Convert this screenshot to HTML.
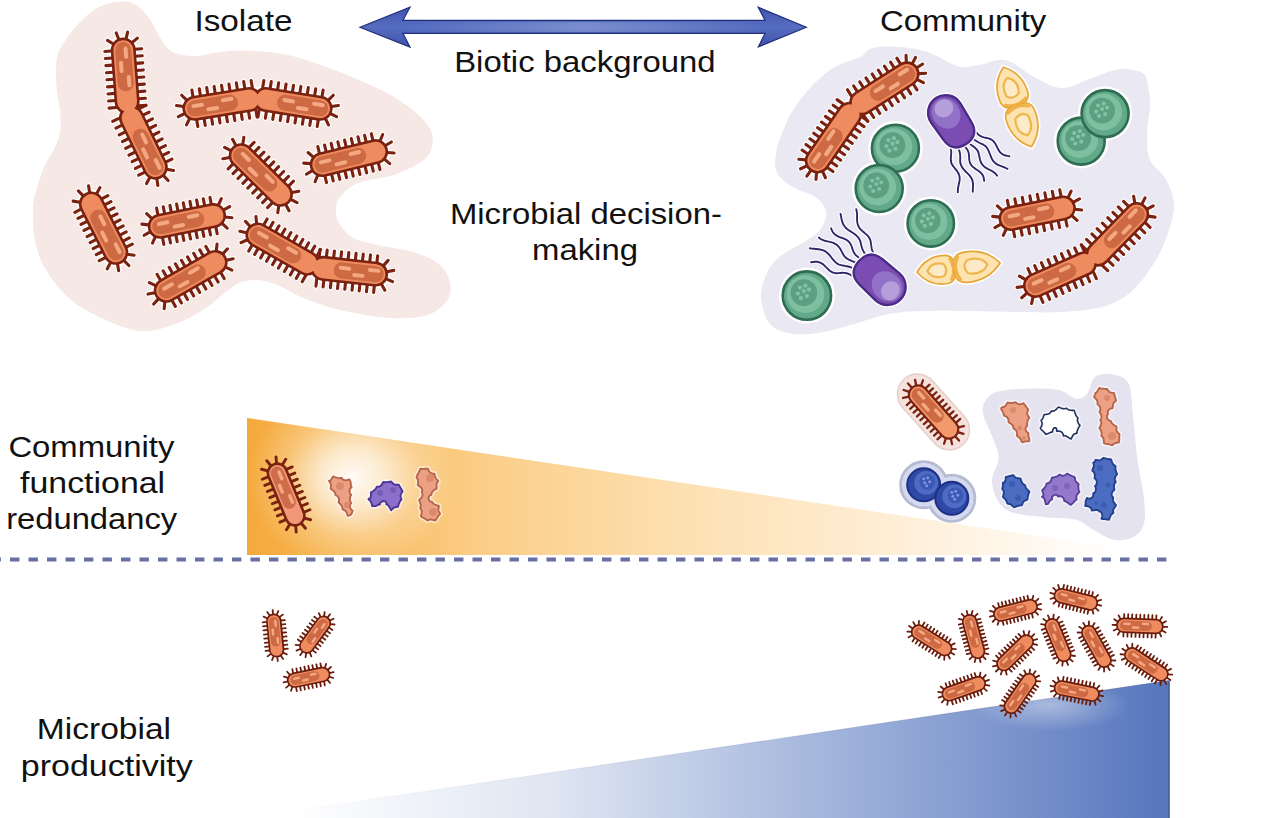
<!DOCTYPE html>
<html><head><meta charset="utf-8"><style>
html,body{margin:0;padding:0;background:#fff;width:1280px;height:818px;overflow:hidden}
svg{display:block}
text{font-family:"Liberation Sans",sans-serif;fill:#111}
</style></head><body>
<svg width="1280" height="818" viewBox="0 0 1280 818">
<defs>
<linearGradient id="og" x1="247" y1="0" x2="1166" y2="0" gradientUnits="userSpaceOnUse">
<stop offset="0" stop-color="#f5a93d"/><stop offset="0.07" stop-color="#f6b24a"/><stop offset="0.25" stop-color="#fbcd86"/><stop offset="0.5" stop-color="#fde2b6"/><stop offset="0.8" stop-color="#fff4e6"/><stop offset="0.95" stop-color="#ffffff"/></linearGradient>
<radialGradient id="glow" cx="352" cy="478" r="110" gradientTransform="translate(352,478) scale(0.95,0.85) translate(-352,-478)" gradientUnits="userSpaceOnUse">
<stop offset="0" stop-color="#fff" stop-opacity="0.95"/><stop offset="0.3" stop-color="#fff" stop-opacity="0.7"/><stop offset="0.65" stop-color="#fff" stop-opacity="0.25"/><stop offset="1" stop-color="#fff" stop-opacity="0"/></radialGradient>
<linearGradient id="bg" x1="290" y1="0" x2="1169" y2="0" gradientUnits="userSpaceOnUse">
<stop offset="0" stop-color="#ffffff"/><stop offset="0.3" stop-color="#dfe5f2"/><stop offset="0.7" stop-color="#92a7d6"/><stop offset="1" stop-color="#5676bd"/></linearGradient>
<radialGradient id="wglow"><stop offset="0" stop-color="#fff" stop-opacity="0.8"/><stop offset="1" stop-color="#fff" stop-opacity="0"/></radialGradient>
<linearGradient id="edgeg" x1="246" y1="0" x2="1169.5" y2="0" gradientUnits="userSpaceOnUse"><stop offset="0" stop-color="#7d8fb8" stop-opacity="0"/><stop offset="0.4" stop-color="#7d8fb8" stop-opacity="0.15"/><stop offset="1" stop-color="#4a5f9a" stop-opacity="0.6"/></linearGradient>
<linearGradient id="ahl" x1="410" y1="0" x2="760" y2="0" gradientUnits="userSpaceOnUse"><stop offset="0" stop-color="#fff" stop-opacity="0"/><stop offset="0.5" stop-color="#fff" stop-opacity="0.22"/><stop offset="1" stop-color="#fff" stop-opacity="0"/></linearGradient>
<linearGradient id="ag" x1="0" y1="7" x2="0" y2="47" gradientUnits="userSpaceOnUse">
<stop offset="0" stop-color="#3d52ad"/><stop offset="0.5" stop-color="#566ec0"/><stop offset="1" stop-color="#3d52ad"/></linearGradient>
</defs><path d="M60,49C64.2,40.7 74,28.2 81,21C88,13.8 95,8.9 102,5.6C109,2.3 117.2,1.4 123,1.4C128.8,1.4 132.3,2.3 137,5.6C141.7,8.9 147,15.4 151,21C155,26.6 157.4,33.8 161,39C164.6,44.2 167,49.2 172.5,52C178,54.8 186.9,55.8 194,56C201.1,56.2 207.3,53.9 215,53C222.7,52.1 228.7,50.4 240,50.6C251.3,50.8 268.8,51.4 283,54C297.2,56.6 311.2,61.7 325,66.5C338.8,71.3 353.7,77.4 366,83C378.3,88.6 389.3,93.8 399,100C408.7,106.2 418.4,114.3 424,120.5C429.6,126.7 432.3,130.8 432.6,137C432.9,143.2 432.3,151.8 426,158C419.7,164.2 406.3,170.3 395,174.5C383.7,178.7 367.2,179.2 358,183C348.8,186.8 343.7,192.5 340,197C336.3,201.5 336.2,205.7 336,210C335.8,214.3 336.2,218.4 339,223C341.8,227.6 346.1,233.8 352.5,237.5C358.9,241.2 367.1,242.5 377.5,245C387.9,247.5 404.6,249.2 415,252.5C425.4,255.8 434.2,260 440,265C445.8,270 448.8,276.7 450,282.5C451.2,288.3 451.2,294.6 447.5,300C443.8,305.4 437.1,312 427.5,315C417.9,318 404.6,318.8 390,318C375.4,317.2 354.6,313.4 340,310C325.4,306.6 312.9,301.7 302.5,297.5C292.1,293.3 285,287.9 277.5,285C270,282.1 263.8,280.4 257.5,280C251.2,279.6 245.4,280.4 240,282.5C234.6,284.6 230,288.8 225,292.5C220,296.2 215.8,300.8 210,305C204.2,309.2 197.5,313.8 190,317.5C182.5,321.2 173.3,325.2 165,327.5C156.7,329.8 149.5,332.1 140,331C130.5,329.9 119.5,326.2 108,321C96.5,315.8 81.3,308.5 71,300C60.7,291.5 52,279.8 46,270C40,260.2 37.2,251.3 35,241C32.8,230.7 32.7,216.8 33,208C33.3,199.2 35.1,195 37,188C38.9,181 41.7,172.5 44.5,166C47.3,159.5 51.4,154.5 54,149C56.6,143.5 58.9,138.7 60,133C61.1,127.3 60.9,122.2 60.4,115C59.9,107.8 57.7,97.3 57,90C56.3,82.7 55.5,77.8 56,71C56.5,64.2 55.8,57.3 60,49Z" fill="#f5e8e5"/><path d="M793,110C797.8,102.3 804.3,94 811,87C817.7,80 824.8,73 833,68C841.2,63 853.4,60.3 860,57C866.6,53.7 865.7,49.7 872.5,48C879.3,46.3 891.2,46.2 900.6,47C910,47.8 919.6,49.3 929,52.5C938.4,55.7 949.2,63.8 957,66C964.8,68.2 967.9,66.6 976,65.6C984.1,64.6 995.9,58.1 1005.6,60C1015.3,61.9 1024.6,72.3 1034,77C1043.4,81.7 1052.7,87.7 1062,88C1071.3,88.3 1080.7,81.8 1090,78.8C1099.3,75.7 1109.2,70.4 1118,69.4C1126.8,68.4 1137.5,70.2 1142.5,73C1147.5,75.8 1146.8,80.7 1148,86C1149.2,91.3 1150.2,97 1150,105C1149.8,113 1147,124.8 1147,134C1147,143.2 1147,152.7 1150,160C1153,167.3 1161,170.7 1165,178C1169,185.3 1173.5,194.8 1174,204C1174.5,213.2 1171.3,223.2 1168,233C1164.7,242.8 1160.2,253.2 1154,263C1147.8,272.8 1139.7,284.7 1131,292C1122.3,299.3 1113.8,303.7 1102,307C1090.2,310.3 1074,311.2 1060,312C1046,312.8 1032.8,312.2 1018,312C1003.2,311.8 986.7,311.2 971,311C955.3,310.8 937.7,310.5 924,311C910.3,311.5 900.7,311.8 889,314C877.3,316.2 865.8,320.8 854,324C842.2,327.2 829,331.5 818,333C807,334.5 796.2,334.7 788,333C779.8,331.3 773.5,329 769,323C764.5,317 761.5,305 761,297C760.5,289 763.7,281 766,275C768.3,269 771.2,265.1 775,261C778.8,256.9 783.4,253.9 788.6,250.6C793.8,247.3 800.9,244.3 806,241C811.1,237.7 816.2,234.3 819.5,230.5C822.8,226.7 824.7,221.8 825.6,218C826.5,214.2 826.7,211.5 825,208C823.3,204.5 819.8,200 815.5,197C811.2,194 804.1,192.5 799,190C793.9,187.5 788.8,185.3 785,182C781.2,178.7 777.5,174.8 776,170C774.5,165.2 775,159.2 776,153C777,146.8 779.2,140.2 782,133C784.8,125.8 788.2,117.7 793,110Z" fill="#eae9f3"/><g transform="translate(125.2,75.9) rotate(85.7)"><path d="M-25.9,-11.5L-25.9,-18.5M-25.9,11.5L-25.9,18.5M-18.8,-11.5L-18.8,-18.5M-18.8,11.5L-18.8,18.5M-11.7,-11.5L-11.7,-18.5M-11.7,11.5L-11.7,18.5M-4.6,-11.5L-4.6,-18.5M-4.6,11.5L-4.6,18.5M2.5,-11.5L2.5,-18.5M2.5,11.5L2.5,18.5M9.6,-11.5L9.6,-18.5M9.6,11.5L9.6,18.5M16.7,-11.5L16.7,-18.5M16.7,11.5L16.7,18.5M23.8,-11.5L23.8,-18.5M23.8,11.5L23.8,18.5M30.9,-11.5L30.9,-18.5M30.9,11.5L30.9,18.5M-32.7,-9.3L-36.8,-15M-36.8,-3.6L-43.5,-5.7M-36.8,3.6L-43.5,5.7M-32.7,9.3L-36.8,15" stroke="#fff" stroke-width="5.3" stroke-linecap="round"/><rect x="-40.4" y="-14.5" width="80.8" height="29" rx="14.5" fill="#fff"/></g><g transform="translate(143.4,142.5) rotate(64.2)"><path d="M-32.4,-11.5L-32.4,-18.5M-32.4,11.5L-32.4,18.5M-24.9,-11.5L-24.9,-18.5M-24.9,11.5L-24.9,18.5M-17.4,-11.5L-17.4,-18.5M-17.4,11.5L-17.4,18.5M-10,-11.5L-10,-18.5M-10,11.5L-10,18.5M-2.5,-11.5L-2.5,-18.5M-2.5,11.5L-2.5,18.5M5,-11.5L5,-18.5M5,11.5L5,18.5M12.4,-11.5L12.4,-18.5M12.4,11.5L12.4,18.5M19.9,-11.5L19.9,-18.5M19.9,11.5L19.9,18.5M27.4,-11.5L27.4,-18.5M27.4,11.5L27.4,18.5M34.1,-9.3L38.3,-15M38.3,-3.6L45,-5.7M38.3,3.6L45,5.7M34.1,9.3L38.3,15" stroke="#fff" stroke-width="5.3" stroke-linecap="round"/><rect x="-41.9" y="-14.5" width="83.8" height="29" rx="14.5" fill="#fff"/></g><path transform="translate(125.2,75.9) rotate(85.7)" d="M-25.9,-11.5L-25.9,-18.5M-25.9,11.5L-25.9,18.5M-18.8,-11.5L-18.8,-18.5M-18.8,11.5L-18.8,18.5M-11.7,-11.5L-11.7,-18.5M-11.7,11.5L-11.7,18.5M-4.6,-11.5L-4.6,-18.5M-4.6,11.5L-4.6,18.5M2.5,-11.5L2.5,-18.5M2.5,11.5L2.5,18.5M9.6,-11.5L9.6,-18.5M9.6,11.5L9.6,18.5M16.7,-11.5L16.7,-18.5M16.7,11.5L16.7,18.5M23.8,-11.5L23.8,-18.5M23.8,11.5L23.8,18.5M30.9,-11.5L30.9,-18.5M30.9,11.5L30.9,18.5M-32.7,-9.3L-36.8,-15M-36.8,-3.6L-43.5,-5.7M-36.8,3.6L-43.5,5.7M-32.7,9.3L-36.8,15" stroke="#7a2110" stroke-width="3.1" stroke-linecap="round"/><path transform="translate(143.4,142.5) rotate(64.2)" d="M-32.4,-11.5L-32.4,-18.5M-32.4,11.5L-32.4,18.5M-24.9,-11.5L-24.9,-18.5M-24.9,11.5L-24.9,18.5M-17.4,-11.5L-17.4,-18.5M-17.4,11.5L-17.4,18.5M-10,-11.5L-10,-18.5M-10,11.5L-10,18.5M-2.5,-11.5L-2.5,-18.5M-2.5,11.5L-2.5,18.5M5,-11.5L5,-18.5M5,11.5L5,18.5M12.4,-11.5L12.4,-18.5M12.4,11.5L12.4,18.5M19.9,-11.5L19.9,-18.5M19.9,11.5L19.9,18.5M27.4,-11.5L27.4,-18.5M27.4,11.5L27.4,18.5M34.1,-9.3L38.3,-15M38.3,-3.6L45,-5.7M38.3,3.6L45,5.7M34.1,9.3L38.3,15" stroke="#7a2110" stroke-width="3.1" stroke-linecap="round"/><rect transform="translate(125.2,75.9) rotate(85.7)" x="-38.4" y="-12.5" width="76.8" height="25" rx="12.5" fill="#7a2110"/><rect transform="translate(143.4,142.5) rotate(64.2)" x="-39.9" y="-12.5" width="79.8" height="25" rx="12.5" fill="#7a2110"/><g transform="translate(125.2,75.9) rotate(85.7)"><rect x="-35.8" y="-9.9" width="71.6" height="19.8" rx="9.9" fill="#ef8c5f"/><rect x="-33.9" y="-8" width="49.3" height="16.1" rx="8" fill="#cd6a44"/><rect x="-29.2" y="-4.4" width="12.3" height="4" rx="2" fill="#f4a882"/><rect x="-15.4" y="1.2" width="12.3" height="4" rx="2" fill="#f4a882"/><rect x="-0.6" y="-5.5" width="12.3" height="4" rx="2" fill="#f4a882"/></g><g transform="translate(143.4,142.5) rotate(64.2)"><rect x="-37.3" y="-9.9" width="74.6" height="19.8" rx="9.9" fill="#ef8c5f"/><rect x="-14.4" y="-8" width="49.8" height="16.1" rx="8" fill="#cd6a44"/><rect x="-9.8" y="-4.4" width="12.8" height="4" rx="2" fill="#f4a882"/><rect x="4.1" y="1.2" width="12.8" height="4" rx="2" fill="#f4a882"/><rect x="19.1" y="-5.5" width="12.8" height="4" rx="2" fill="#f4a882"/></g><g transform="translate(222,103.9) rotate(-9.2)"><path d="M-27.5,-11.5L-27.5,-18.5M-27.5,11.5L-27.5,18.5M-20,-11.5L-20,-18.5M-20,11.5L-20,18.5M-12.5,-11.5L-12.5,-18.5M-12.5,11.5L-12.5,18.5M-5,-11.5L-5,-18.5M-5,11.5L-5,18.5M2.5,-11.5L2.5,-18.5M2.5,11.5L2.5,18.5M10,-11.5L10,-18.5M10,11.5L10,18.5M17.5,-11.5L17.5,-18.5M17.5,11.5L17.5,18.5M25,-11.5L25,-18.5M25,11.5L25,18.5M32.5,-11.5L32.5,-18.5M32.5,11.5L32.5,18.5M-34.3,-9.3L-38.4,-15M-38.4,-3.6L-45.1,-5.7M-38.4,3.6L-45.1,5.7M-34.3,9.3L-38.4,15" stroke="#fff" stroke-width="5.3" stroke-linecap="round"/><rect x="-42" y="-14.5" width="84" height="29" rx="14.5" fill="#fff"/></g><g transform="translate(293,103.9) rotate(9.2)"><path d="M-32.5,-11.5L-32.5,-18.5M-32.5,11.5L-32.5,18.5M-25,-11.5L-25,-18.5M-25,11.5L-25,18.5M-17.5,-11.5L-17.5,-18.5M-17.5,11.5L-17.5,18.5M-10,-11.5L-10,-18.5M-10,11.5L-10,18.5M-2.5,-11.5L-2.5,-18.5M-2.5,11.5L-2.5,18.5M5,-11.5L5,-18.5M5,11.5L5,18.5M12.5,-11.5L12.5,-18.5M12.5,11.5L12.5,18.5M20,-11.5L20,-18.5M20,11.5L20,18.5M27.5,-11.5L27.5,-18.5M27.5,11.5L27.5,18.5M34.3,-9.3L38.4,-15M38.4,-3.6L45.1,-5.7M38.4,3.6L45.1,5.7M34.3,9.3L38.4,15" stroke="#fff" stroke-width="5.3" stroke-linecap="round"/><rect x="-42" y="-14.5" width="84" height="29" rx="14.5" fill="#fff"/></g><path transform="translate(222,103.9) rotate(-9.2)" d="M-27.5,-11.5L-27.5,-18.5M-27.5,11.5L-27.5,18.5M-20,-11.5L-20,-18.5M-20,11.5L-20,18.5M-12.5,-11.5L-12.5,-18.5M-12.5,11.5L-12.5,18.5M-5,-11.5L-5,-18.5M-5,11.5L-5,18.5M2.5,-11.5L2.5,-18.5M2.5,11.5L2.5,18.5M10,-11.5L10,-18.5M10,11.5L10,18.5M17.5,-11.5L17.5,-18.5M17.5,11.5L17.5,18.5M25,-11.5L25,-18.5M25,11.5L25,18.5M32.5,-11.5L32.5,-18.5M32.5,11.5L32.5,18.5M-34.3,-9.3L-38.4,-15M-38.4,-3.6L-45.1,-5.7M-38.4,3.6L-45.1,5.7M-34.3,9.3L-38.4,15" stroke="#7a2110" stroke-width="3.1" stroke-linecap="round"/><path transform="translate(293,103.9) rotate(9.2)" d="M-32.5,-11.5L-32.5,-18.5M-32.5,11.5L-32.5,18.5M-25,-11.5L-25,-18.5M-25,11.5L-25,18.5M-17.5,-11.5L-17.5,-18.5M-17.5,11.5L-17.5,18.5M-10,-11.5L-10,-18.5M-10,11.5L-10,18.5M-2.5,-11.5L-2.5,-18.5M-2.5,11.5L-2.5,18.5M5,-11.5L5,-18.5M5,11.5L5,18.5M12.5,-11.5L12.5,-18.5M12.5,11.5L12.5,18.5M20,-11.5L20,-18.5M20,11.5L20,18.5M27.5,-11.5L27.5,-18.5M27.5,11.5L27.5,18.5M34.3,-9.3L38.4,-15M38.4,-3.6L45.1,-5.7M38.4,3.6L45.1,5.7M34.3,9.3L38.4,15" stroke="#7a2110" stroke-width="3.1" stroke-linecap="round"/><rect transform="translate(222,103.9) rotate(-9.2)" x="-40" y="-12.5" width="80" height="25" rx="12.5" fill="#7a2110"/><rect transform="translate(293,103.9) rotate(9.2)" x="-40" y="-12.5" width="80" height="25" rx="12.5" fill="#7a2110"/><g transform="translate(222,103.9) rotate(-9.2)"><rect x="-37.4" y="-9.9" width="74.8" height="19.8" rx="9.9" fill="#ef8c5f"/><rect x="-35.5" y="-8" width="51.5" height="16.1" rx="8" fill="#cd6a44"/><rect x="-30.6" y="-4.4" width="12.8" height="4" rx="2" fill="#f4a882"/><rect x="-16.2" y="1.2" width="12.8" height="4" rx="2" fill="#f4a882"/><rect x="-0.7" y="-5.5" width="12.8" height="4" rx="2" fill="#f4a882"/></g><g transform="translate(293,103.9) rotate(9.2)"><rect x="-37.4" y="-9.9" width="74.8" height="19.8" rx="9.9" fill="#ef8c5f"/><rect x="-16" y="-8" width="51.5" height="16.1" rx="8" fill="#cd6a44"/><rect x="-11.1" y="-4.4" width="12.8" height="4" rx="2" fill="#f4a882"/><rect x="3.4" y="1.2" width="12.8" height="4" rx="2" fill="#f4a882"/><rect x="18.8" y="-5.5" width="12.8" height="4" rx="2" fill="#f4a882"/></g><g transform="translate(260.8,175) rotate(44.5)"><path d="M-27.6,-11.5L-27.6,-18.5M-27.6,11.5L-27.6,18.5M-20.7,-11.5L-20.7,-18.5M-20.7,11.5L-20.7,18.5M-13.8,-11.5L-13.8,-18.5M-13.8,11.5L-13.8,18.5M-6.9,-11.5L-6.9,-18.5M-6.9,11.5L-6.9,18.5M0,-11.5L0,-18.5M0,11.5L0,18.5M6.9,-11.5L6.9,-18.5M6.9,11.5L6.9,18.5M13.8,-11.5L13.8,-18.5M13.8,11.5L13.8,18.5M20.7,-11.5L20.7,-18.5M20.7,11.5L20.7,18.5M27.6,-11.5L27.6,-18.5M27.6,11.5L27.6,18.5M34.4,-9.3L38.5,-15M38.5,-3.6L45.2,-5.7M38.5,3.6L45.2,5.7M34.4,9.3L38.5,15M-34.4,-9.3L-38.5,-15M-38.5,-3.6L-45.2,-5.7M-38.5,3.6L-45.2,5.7M-34.4,9.3L-38.5,15" stroke="#fff" stroke-width="5.3" stroke-linecap="round"/><rect x="-42.1" y="-14.5" width="84.2" height="29" rx="14.5" fill="#fff"/></g><path transform="translate(260.8,175) rotate(44.5)" d="M-27.6,-11.5L-27.6,-18.5M-27.6,11.5L-27.6,18.5M-20.7,-11.5L-20.7,-18.5M-20.7,11.5L-20.7,18.5M-13.8,-11.5L-13.8,-18.5M-13.8,11.5L-13.8,18.5M-6.9,-11.5L-6.9,-18.5M-6.9,11.5L-6.9,18.5M0,-11.5L0,-18.5M0,11.5L0,18.5M6.9,-11.5L6.9,-18.5M6.9,11.5L6.9,18.5M13.8,-11.5L13.8,-18.5M13.8,11.5L13.8,18.5M20.7,-11.5L20.7,-18.5M20.7,11.5L20.7,18.5M27.6,-11.5L27.6,-18.5M27.6,11.5L27.6,18.5M34.4,-9.3L38.5,-15M38.5,-3.6L45.2,-5.7M38.5,3.6L45.2,5.7M34.4,9.3L38.5,15M-34.4,-9.3L-38.5,-15M-38.5,-3.6L-45.2,-5.7M-38.5,3.6L-45.2,5.7M-34.4,9.3L-38.5,15" stroke="#7a2110" stroke-width="3.1" stroke-linecap="round"/><rect transform="translate(260.8,175) rotate(44.5)" x="-40.1" y="-12.5" width="80.2" height="25" rx="12.5" fill="#7a2110"/><g transform="translate(260.8,175) rotate(44.5)"><rect x="-37.5" y="-9.9" width="75" height="19.8" rx="9.9" fill="#ef8c5f"/><rect x="-35.6" y="-8" width="55.7" height="16.1" rx="8" fill="#cd6a44"/><rect x="-29.8" y="-4.4" width="12.8" height="4" rx="2" fill="#f4a882"/><rect x="-14.2" y="1.2" width="12.8" height="4" rx="2" fill="#f4a882"/><rect x="2.5" y="-5.5" width="12.8" height="4" rx="2" fill="#f4a882"/></g><g transform="translate(348.9,158.1) rotate(-13.6)"><path d="M-27.5,-11.5L-27.5,-18.5M-27.5,11.5L-27.5,18.5M-20.6,-11.5L-20.6,-18.5M-20.6,11.5L-20.6,18.5M-13.8,-11.5L-13.8,-18.5M-13.8,11.5L-13.8,18.5M-6.9,-11.5L-6.9,-18.5M-6.9,11.5L-6.9,18.5M0,-11.5L0,-18.5M0,11.5L0,18.5M6.9,-11.5L6.9,-18.5M6.9,11.5L6.9,18.5M13.8,-11.5L13.8,-18.5M13.8,11.5L13.8,18.5M20.6,-11.5L20.6,-18.5M20.6,11.5L20.6,18.5M27.5,-11.5L27.5,-18.5M27.5,11.5L27.5,18.5M34.3,-9.3L38.4,-15M38.5,-3.6L45.1,-5.7M38.5,3.6L45.1,5.7M34.3,9.3L38.4,15M-34.3,-9.3L-38.4,-15M-38.5,-3.6L-45.1,-5.7M-38.5,3.6L-45.1,5.7M-34.3,9.3L-38.4,15" stroke="#fff" stroke-width="5.3" stroke-linecap="round"/><rect x="-42" y="-14.5" width="84" height="29" rx="14.5" fill="#fff"/></g><path transform="translate(348.9,158.1) rotate(-13.6)" d="M-27.5,-11.5L-27.5,-18.5M-27.5,11.5L-27.5,18.5M-20.6,-11.5L-20.6,-18.5M-20.6,11.5L-20.6,18.5M-13.8,-11.5L-13.8,-18.5M-13.8,11.5L-13.8,18.5M-6.9,-11.5L-6.9,-18.5M-6.9,11.5L-6.9,18.5M0,-11.5L0,-18.5M0,11.5L0,18.5M6.9,-11.5L6.9,-18.5M6.9,11.5L6.9,18.5M13.8,-11.5L13.8,-18.5M13.8,11.5L13.8,18.5M20.6,-11.5L20.6,-18.5M20.6,11.5L20.6,18.5M27.5,-11.5L27.5,-18.5M27.5,11.5L27.5,18.5M34.3,-9.3L38.4,-15M38.5,-3.6L45.1,-5.7M38.5,3.6L45.1,5.7M34.3,9.3L38.4,15M-34.3,-9.3L-38.4,-15M-38.5,-3.6L-45.1,-5.7M-38.5,3.6L-45.1,5.7M-34.3,9.3L-38.4,15" stroke="#7a2110" stroke-width="3.1" stroke-linecap="round"/><rect transform="translate(348.9,158.1) rotate(-13.6)" x="-40" y="-12.5" width="80" height="25" rx="12.5" fill="#7a2110"/><g transform="translate(348.9,158.1) rotate(-13.6)"><rect x="-37.4" y="-9.9" width="74.8" height="19.8" rx="9.9" fill="#ef8c5f"/><rect x="-35.5" y="-8" width="53.1" height="16.1" rx="8" fill="#cd6a44"/><rect x="-30.2" y="-4.4" width="12.8" height="4" rx="2" fill="#f4a882"/><rect x="-15.4" y="1.2" width="12.8" height="4" rx="2" fill="#f4a882"/><rect x="0.6" y="-5.5" width="12.8" height="4" rx="2" fill="#f4a882"/></g><g transform="translate(103.6,228.2) rotate(63.2)"><path d="M-27.1,-11.5L-27.1,-18.5M-27.1,11.5L-27.1,18.5M-20.3,-11.5L-20.3,-18.5M-20.3,11.5L-20.3,18.5M-13.5,-11.5L-13.5,-18.5M-13.5,11.5L-13.5,18.5M-6.8,-11.5L-6.8,-18.5M-6.8,11.5L-6.8,18.5M0,-11.5L0,-18.5M0,11.5L0,18.5M6.8,-11.5L6.8,-18.5M6.8,11.5L6.8,18.5M13.5,-11.5L13.5,-18.5M13.5,11.5L13.5,18.5M20.3,-11.5L20.3,-18.5M20.3,11.5L20.3,18.5M27.1,-11.5L27.1,-18.5M27.1,11.5L27.1,18.5M33.8,-9.3L37.9,-15M38,-3.6L44.7,-5.7M38,3.6L44.7,5.7M33.8,9.3L37.9,15M-33.8,-9.3L-37.9,-15M-38,-3.6L-44.7,-5.7M-38,3.6L-44.7,5.7M-33.8,9.3L-37.9,15" stroke="#fff" stroke-width="5.3" stroke-linecap="round"/><rect x="-41.6" y="-14.5" width="83.1" height="29" rx="14.5" fill="#fff"/></g><path transform="translate(103.6,228.2) rotate(63.2)" d="M-27.1,-11.5L-27.1,-18.5M-27.1,11.5L-27.1,18.5M-20.3,-11.5L-20.3,-18.5M-20.3,11.5L-20.3,18.5M-13.5,-11.5L-13.5,-18.5M-13.5,11.5L-13.5,18.5M-6.8,-11.5L-6.8,-18.5M-6.8,11.5L-6.8,18.5M0,-11.5L0,-18.5M0,11.5L0,18.5M6.8,-11.5L6.8,-18.5M6.8,11.5L6.8,18.5M13.5,-11.5L13.5,-18.5M13.5,11.5L13.5,18.5M20.3,-11.5L20.3,-18.5M20.3,11.5L20.3,18.5M27.1,-11.5L27.1,-18.5M27.1,11.5L27.1,18.5M33.8,-9.3L37.9,-15M38,-3.6L44.7,-5.7M38,3.6L44.7,5.7M33.8,9.3L37.9,15M-33.8,-9.3L-37.9,-15M-38,-3.6L-44.7,-5.7M-38,3.6L-44.7,5.7M-33.8,9.3L-37.9,15" stroke="#7a2110" stroke-width="3.1" stroke-linecap="round"/><rect transform="translate(103.6,228.2) rotate(63.2)" x="-39.6" y="-12.5" width="79.1" height="25" rx="12.5" fill="#7a2110"/><g transform="translate(103.6,228.2) rotate(63.2)"><rect x="-37" y="-9.9" width="73.9" height="19.8" rx="9.9" fill="#ef8c5f"/><rect x="-19.8" y="-8" width="54.9" height="16.1" rx="8" fill="#cd6a44"/><rect x="-14" y="-4.4" width="12.7" height="4" rx="2" fill="#f4a882"/><rect x="1.3" y="1.2" width="12.7" height="4" rx="2" fill="#f4a882"/><rect x="17.8" y="-5.5" width="12.7" height="4" rx="2" fill="#f4a882"/></g><g transform="translate(186.9,220.9) rotate(-11.3)"><path d="M-27.2,-11.5L-27.2,-18.5M-27.2,11.5L-27.2,18.5M-20.4,-11.5L-20.4,-18.5M-20.4,11.5L-20.4,18.5M-13.6,-11.5L-13.6,-18.5M-13.6,11.5L-13.6,18.5M-6.8,-11.5L-6.8,-18.5M-6.8,11.5L-6.8,18.5M0,-11.5L0,-18.5M0,11.5L0,18.5M6.8,-11.5L6.8,-18.5M6.8,11.5L6.8,18.5M13.6,-11.5L13.6,-18.5M13.6,11.5L13.6,18.5M20.4,-11.5L20.4,-18.5M20.4,11.5L20.4,18.5M27.2,-11.5L27.2,-18.5M27.2,11.5L27.2,18.5M34,-9.3L38.1,-15M38.2,-3.6L44.8,-5.7M38.2,3.6L44.8,5.7M34,9.3L38.1,15M-34,-9.3L-38.1,-15M-38.2,-3.6L-44.8,-5.7M-38.2,3.6L-44.8,5.7M-34,9.3L-38.1,15" stroke="#fff" stroke-width="5.3" stroke-linecap="round"/><rect x="-41.7" y="-14.5" width="83.4" height="29" rx="14.5" fill="#fff"/></g><path transform="translate(186.9,220.9) rotate(-11.3)" d="M-27.2,-11.5L-27.2,-18.5M-27.2,11.5L-27.2,18.5M-20.4,-11.5L-20.4,-18.5M-20.4,11.5L-20.4,18.5M-13.6,-11.5L-13.6,-18.5M-13.6,11.5L-13.6,18.5M-6.8,-11.5L-6.8,-18.5M-6.8,11.5L-6.8,18.5M0,-11.5L0,-18.5M0,11.5L0,18.5M6.8,-11.5L6.8,-18.5M6.8,11.5L6.8,18.5M13.6,-11.5L13.6,-18.5M13.6,11.5L13.6,18.5M20.4,-11.5L20.4,-18.5M20.4,11.5L20.4,18.5M27.2,-11.5L27.2,-18.5M27.2,11.5L27.2,18.5M34,-9.3L38.1,-15M38.2,-3.6L44.8,-5.7M38.2,3.6L44.8,5.7M34,9.3L38.1,15M-34,-9.3L-38.1,-15M-38.2,-3.6L-44.8,-5.7M-38.2,3.6L-44.8,5.7M-34,9.3L-38.1,15" stroke="#7a2110" stroke-width="3.1" stroke-linecap="round"/><rect transform="translate(186.9,220.9) rotate(-11.3)" x="-39.7" y="-12.5" width="79.4" height="25" rx="12.5" fill="#7a2110"/><g transform="translate(186.9,220.9) rotate(-11.3)"><rect x="-37.1" y="-9.9" width="74.2" height="19.8" rx="9.9" fill="#ef8c5f"/><rect x="-35.2" y="-8" width="52.7" height="16.1" rx="8" fill="#cd6a44"/><rect x="-30" y="-4.4" width="12.7" height="4" rx="2" fill="#f4a882"/><rect x="-15.2" y="1.2" width="12.7" height="4" rx="2" fill="#f4a882"/><rect x="0.6" y="-5.5" width="12.7" height="4" rx="2" fill="#f4a882"/></g><g transform="translate(190.6,276.4) rotate(-29.7)"><path d="M-28.1,-11.5L-28.1,-18.5M-28.1,11.5L-28.1,18.5M-21.1,-11.5L-21.1,-18.5M-21.1,11.5L-21.1,18.5M-14.1,-11.5L-14.1,-18.5M-14.1,11.5L-14.1,18.5M-7,-11.5L-7,-18.5M-7,11.5L-7,18.5M0,-11.5L0,-18.5M0,11.5L0,18.5M7,-11.5L7,-18.5M7,11.5L7,18.5M14.1,-11.5L14.1,-18.5M14.1,11.5L14.1,18.5M21.1,-11.5L21.1,-18.5M21.1,11.5L21.1,18.5M28.1,-11.5L28.1,-18.5M28.1,11.5L28.1,18.5M34.9,-9.3L39,-15M39.1,-3.6L45.7,-5.7M39.1,3.6L45.7,5.7M34.9,9.3L39,15M-34.9,-9.3L-39,-15M-39.1,-3.6L-45.7,-5.7M-39.1,3.6L-45.7,5.7M-34.9,9.3L-39,15" stroke="#fff" stroke-width="5.3" stroke-linecap="round"/><rect x="-42.6" y="-14.5" width="85.3" height="29" rx="14.5" fill="#fff"/></g><path transform="translate(190.6,276.4) rotate(-29.7)" d="M-28.1,-11.5L-28.1,-18.5M-28.1,11.5L-28.1,18.5M-21.1,-11.5L-21.1,-18.5M-21.1,11.5L-21.1,18.5M-14.1,-11.5L-14.1,-18.5M-14.1,11.5L-14.1,18.5M-7,-11.5L-7,-18.5M-7,11.5L-7,18.5M0,-11.5L0,-18.5M0,11.5L0,18.5M7,-11.5L7,-18.5M7,11.5L7,18.5M14.1,-11.5L14.1,-18.5M14.1,11.5L14.1,18.5M21.1,-11.5L21.1,-18.5M21.1,11.5L21.1,18.5M28.1,-11.5L28.1,-18.5M28.1,11.5L28.1,18.5M34.9,-9.3L39,-15M39.1,-3.6L45.7,-5.7M39.1,3.6L45.7,5.7M34.9,9.3L39,15M-34.9,-9.3L-39,-15M-39.1,-3.6L-45.7,-5.7M-39.1,3.6L-45.7,5.7M-34.9,9.3L-39,15" stroke="#7a2110" stroke-width="3.1" stroke-linecap="round"/><rect transform="translate(190.6,276.4) rotate(-29.7)" x="-40.6" y="-12.5" width="81.3" height="25" rx="12.5" fill="#7a2110"/><g transform="translate(190.6,276.4) rotate(-29.7)"><rect x="-38" y="-9.9" width="76.1" height="19.8" rx="9.9" fill="#ef8c5f"/><rect x="-36.2" y="-8" width="52.4" height="16.1" rx="8" fill="#cd6a44"/><rect x="-31.1" y="-4.4" width="13" height="4" rx="2" fill="#f4a882"/><rect x="-16.5" y="1.2" width="13" height="4" rx="2" fill="#f4a882"/><rect x="-0.7" y="-5.5" width="13" height="4" rx="2" fill="#f4a882"/></g><g transform="translate(282.5,249.1) rotate(29.8)"><path d="M-28.3,-11.5L-28.3,-18.5M-28.3,11.5L-28.3,18.5M-21.5,-11.5L-21.5,-18.5M-21.5,11.5L-21.5,18.5M-14.6,-11.5L-14.6,-18.5M-14.6,11.5L-14.6,18.5M-7.8,-11.5L-7.8,-18.5M-7.8,11.5L-7.8,18.5M-0.9,-11.5L-0.9,-18.5M-0.9,11.5L-0.9,18.5M5.9,-11.5L5.9,-18.5M5.9,11.5L5.9,18.5M12.8,-11.5L12.8,-18.5M12.8,11.5L12.8,18.5M19.6,-11.5L19.6,-18.5M19.6,11.5L19.6,18.5M26.5,-11.5L26.5,-18.5M26.5,11.5L26.5,18.5M33.3,-11.5L33.3,-18.5M33.3,11.5L33.3,18.5M-35.1,-9.3L-39.2,-15M-39.3,-3.6L-45.9,-5.7M-39.3,3.6L-45.9,5.7M-35.1,9.3L-39.2,15" stroke="#fff" stroke-width="5.3" stroke-linecap="round"/><rect x="-42.8" y="-14.5" width="85.7" height="29" rx="14.5" fill="#fff"/></g><g transform="translate(349.3,271.2) rotate(6.3)"><path d="M-31.5,-11.5L-31.5,-18.5M-31.5,11.5L-31.5,18.5M-24.3,-11.5L-24.3,-18.5M-24.3,11.5L-24.3,18.5M-17,-11.5L-17,-18.5M-17,11.5L-17,18.5M-9.8,-11.5L-9.8,-18.5M-9.8,11.5L-9.8,18.5M-2.5,-11.5L-2.5,-18.5M-2.5,11.5L-2.5,18.5M4.8,-11.5L4.8,-18.5M4.8,11.5L4.8,18.5M12,-11.5L12,-18.5M12,11.5L12,18.5M19.3,-11.5L19.3,-18.5M19.3,11.5L19.3,18.5M26.5,-11.5L26.5,-18.5M26.5,11.5L26.5,18.5M33.3,-9.3L37.4,-15M37.5,-3.6L44.1,-5.7M37.5,3.6L44.1,5.7M33.3,9.3L37.4,15" stroke="#fff" stroke-width="5.3" stroke-linecap="round"/><rect x="-41" y="-14.5" width="82" height="29" rx="14.5" fill="#fff"/></g><path transform="translate(282.5,249.1) rotate(29.8)" d="M-28.3,-11.5L-28.3,-18.5M-28.3,11.5L-28.3,18.5M-21.5,-11.5L-21.5,-18.5M-21.5,11.5L-21.5,18.5M-14.6,-11.5L-14.6,-18.5M-14.6,11.5L-14.6,18.5M-7.8,-11.5L-7.8,-18.5M-7.8,11.5L-7.8,18.5M-0.9,-11.5L-0.9,-18.5M-0.9,11.5L-0.9,18.5M5.9,-11.5L5.9,-18.5M5.9,11.5L5.9,18.5M12.8,-11.5L12.8,-18.5M12.8,11.5L12.8,18.5M19.6,-11.5L19.6,-18.5M19.6,11.5L19.6,18.5M26.5,-11.5L26.5,-18.5M26.5,11.5L26.5,18.5M33.3,-11.5L33.3,-18.5M33.3,11.5L33.3,18.5M-35.1,-9.3L-39.2,-15M-39.3,-3.6L-45.9,-5.7M-39.3,3.6L-45.9,5.7M-35.1,9.3L-39.2,15" stroke="#7a2110" stroke-width="3.1" stroke-linecap="round"/><path transform="translate(349.3,271.2) rotate(6.3)" d="M-31.5,-11.5L-31.5,-18.5M-31.5,11.5L-31.5,18.5M-24.3,-11.5L-24.3,-18.5M-24.3,11.5L-24.3,18.5M-17,-11.5L-17,-18.5M-17,11.5L-17,18.5M-9.8,-11.5L-9.8,-18.5M-9.8,11.5L-9.8,18.5M-2.5,-11.5L-2.5,-18.5M-2.5,11.5L-2.5,18.5M4.8,-11.5L4.8,-18.5M4.8,11.5L4.8,18.5M12,-11.5L12,-18.5M12,11.5L12,18.5M19.3,-11.5L19.3,-18.5M19.3,11.5L19.3,18.5M26.5,-11.5L26.5,-18.5M26.5,11.5L26.5,18.5M33.3,-9.3L37.4,-15M37.5,-3.6L44.1,-5.7M37.5,3.6L44.1,5.7M33.3,9.3L37.4,15" stroke="#7a2110" stroke-width="3.1" stroke-linecap="round"/><rect transform="translate(282.5,249.1) rotate(29.8)" x="-40.8" y="-12.5" width="81.7" height="25" rx="12.5" fill="#7a2110"/><rect transform="translate(349.3,271.2) rotate(6.3)" x="-39" y="-12.5" width="78" height="25" rx="12.5" fill="#7a2110"/><g transform="translate(282.5,249.1) rotate(29.8)"><rect x="-38.2" y="-9.9" width="76.5" height="19.8" rx="9.9" fill="#ef8c5f"/><rect x="-36.4" y="-8" width="56.8" height="16.1" rx="8" fill="#cd6a44"/><rect x="-30.4" y="-4.4" width="13.1" height="4" rx="2" fill="#f4a882"/><rect x="-14.5" y="1.2" width="13.1" height="4" rx="2" fill="#f4a882"/><rect x="2.5" y="-5.5" width="13.1" height="4" rx="2" fill="#f4a882"/></g><g transform="translate(349.3,271.2) rotate(6.3)"><rect x="-36.4" y="-9.9" width="72.8" height="19.8" rx="9.9" fill="#ef8c5f"/><rect x="-15.6" y="-8" width="50.2" height="16.1" rx="8" fill="#cd6a44"/><rect x="-10.8" y="-4.4" width="12.5" height="4" rx="2" fill="#f4a882"/><rect x="3.2" y="1.2" width="12.5" height="4" rx="2" fill="#f4a882"/><rect x="18.3" y="-5.5" width="12.5" height="4" rx="2" fill="#f4a882"/></g><g transform="translate(833.5,137.7) rotate(-55.3)"><path d="M-28.1,-11.8L-28.1,-18.8M-28.1,11.8L-28.1,18.8M-21.3,-11.8L-21.3,-18.8M-21.3,11.8L-21.3,18.8M-14.4,-11.8L-14.4,-18.8M-14.4,11.8L-14.4,18.8M-7.6,-11.8L-7.6,-18.8M-7.6,11.8L-7.6,18.8M-0.8,-11.8L-0.8,-18.8M-0.8,11.8L-0.8,18.8M6,-11.8L6,-18.8M6,11.8L6,18.8M12.9,-11.8L12.9,-18.8M12.9,11.8L12.9,18.8M19.7,-11.8L19.7,-18.8M19.7,11.8L19.7,18.8M26.5,-11.8L26.5,-18.8M26.5,11.8L26.5,18.8M33.3,-11.8L33.3,-18.8M33.3,11.8L33.3,18.8M-34,-10.2L-37.5,-16.2M-38.3,-5.9L-44.3,-9.4M-39.8,0L-46.8,0M-38.3,5.9L-44.3,9.4M-34,10.2L-37.5,16.2" stroke="#fff" stroke-width="5.3" stroke-linecap="round"/><rect x="-42.8" y="-14.8" width="85.7" height="29.5" rx="14.8" fill="#fff"/></g><g transform="translate(884.4,88.4) rotate(-32.5)"><path d="M-31.9,-11.8L-31.9,-18.8M-31.9,11.8L-31.9,18.8M-24.6,-11.8L-24.6,-18.8M-24.6,11.8L-24.6,18.8M-17.3,-11.8L-17.3,-18.8M-17.3,11.8L-17.3,18.8M-9.9,-11.8L-9.9,-18.8M-9.9,11.8L-9.9,18.8M-2.6,-11.8L-2.6,-18.8M-2.6,11.8L-2.6,18.8M4.7,-11.8L4.7,-18.8M4.7,11.8L4.7,18.8M12,-11.8L12,-18.8M12,11.8L12,18.8M19.3,-11.8L19.3,-18.8M19.3,11.8L19.3,18.8M26.7,-11.8L26.7,-18.8M26.7,11.8L26.7,18.8M32.5,-10.2L36,-16.2M36.8,-5.9L42.9,-9.4M38.4,0L45.4,0M36.8,5.9L42.9,9.4M32.5,10.2L36,16.2" stroke="#fff" stroke-width="5.3" stroke-linecap="round"/><rect x="-41.4" y="-14.8" width="82.8" height="29.5" rx="14.8" fill="#fff"/></g><path transform="translate(833.5,137.7) rotate(-55.3)" d="M-28.1,-11.8L-28.1,-18.8M-28.1,11.8L-28.1,18.8M-21.3,-11.8L-21.3,-18.8M-21.3,11.8L-21.3,18.8M-14.4,-11.8L-14.4,-18.8M-14.4,11.8L-14.4,18.8M-7.6,-11.8L-7.6,-18.8M-7.6,11.8L-7.6,18.8M-0.8,-11.8L-0.8,-18.8M-0.8,11.8L-0.8,18.8M6,-11.8L6,-18.8M6,11.8L6,18.8M12.9,-11.8L12.9,-18.8M12.9,11.8L12.9,18.8M19.7,-11.8L19.7,-18.8M19.7,11.8L19.7,18.8M26.5,-11.8L26.5,-18.8M26.5,11.8L26.5,18.8M33.3,-11.8L33.3,-18.8M33.3,11.8L33.3,18.8M-34,-10.2L-37.5,-16.2M-38.3,-5.9L-44.3,-9.4M-39.8,0L-46.8,0M-38.3,5.9L-44.3,9.4M-34,10.2L-37.5,16.2" stroke="#7a2110" stroke-width="3.1" stroke-linecap="round"/><path transform="translate(884.4,88.4) rotate(-32.5)" d="M-31.9,-11.8L-31.9,-18.8M-31.9,11.8L-31.9,18.8M-24.6,-11.8L-24.6,-18.8M-24.6,11.8L-24.6,18.8M-17.3,-11.8L-17.3,-18.8M-17.3,11.8L-17.3,18.8M-9.9,-11.8L-9.9,-18.8M-9.9,11.8L-9.9,18.8M-2.6,-11.8L-2.6,-18.8M-2.6,11.8L-2.6,18.8M4.7,-11.8L4.7,-18.8M4.7,11.8L4.7,18.8M12,-11.8L12,-18.8M12,11.8L12,18.8M19.3,-11.8L19.3,-18.8M19.3,11.8L19.3,18.8M26.7,-11.8L26.7,-18.8M26.7,11.8L26.7,18.8M32.5,-10.2L36,-16.2M36.8,-5.9L42.9,-9.4M38.4,0L45.4,0M36.8,5.9L42.9,9.4M32.5,10.2L36,16.2" stroke="#7a2110" stroke-width="3.1" stroke-linecap="round"/><rect transform="translate(833.5,137.7) rotate(-55.3)" x="-40.8" y="-12.8" width="81.7" height="25.5" rx="12.8" fill="#7a2110"/><rect transform="translate(884.4,88.4) rotate(-32.5)" x="-39.4" y="-12.8" width="78.8" height="25.5" rx="12.8" fill="#7a2110"/><g transform="translate(833.5,137.7) rotate(-55.3)"><rect x="-38.2" y="-10.2" width="76.5" height="20.3" rx="10.2" fill="#ef8c5f"/><rect x="-36.3" y="-8.2" width="46.1" height="16.5" rx="8.2" fill="#cd6a44"/><rect x="-32.7" y="-4.5" width="13.1" height="4.1" rx="2" fill="#f4a882"/><rect x="-19.8" y="1.3" width="13.1" height="4.1" rx="2" fill="#f4a882"/><rect x="-6" y="-5.7" width="13.1" height="4.1" rx="2" fill="#f4a882"/></g><g transform="translate(884.4,88.4) rotate(-32.5)"><rect x="-36.8" y="-10.2" width="73.6" height="20.3" rx="10.2" fill="#ef8c5f"/><rect x="-15.8" y="-8.2" width="50.7" height="16.5" rx="8.2" fill="#cd6a44"/><rect x="-10.9" y="-4.5" width="12.6" height="4.1" rx="2" fill="#f4a882"/><rect x="3.3" y="1.3" width="12.6" height="4.1" rx="2" fill="#f4a882"/><rect x="18.5" y="-5.7" width="12.6" height="4.1" rx="2" fill="#f4a882"/></g><circle cx="895.4" cy="148.2" r="27.3" fill="#fff"/><circle cx="879.2" cy="188.5" r="27.3" fill="#fff"/><g transform="translate(895.4,148.2)"><circle r="23.5" fill="#62a98a" stroke="#2e6d52" stroke-width="2.6"/><circle cx="-1.5" cy="-1.5" r="18.4" fill="#7dbf9f"/><circle cx="-3" cy="-3" r="12.9" fill="#5c9f81"/><circle cx="-7" cy="-8" r="2.1" fill="#82c3a3"/><circle cx="-1.5" cy="-10" r="2.1" fill="#82c3a3"/><circle cx="-9" cy="-2" r="2.1" fill="#82c3a3"/><circle cx="-3" cy="-4.5" r="2.1" fill="#82c3a3"/><circle cx="2" cy="-6" r="2.1" fill="#82c3a3"/><circle cx="-6" cy="2.5" r="2.1" fill="#82c3a3"/><circle cx="0" cy="0.5" r="2.1" fill="#82c3a3"/></g><g transform="translate(879.2,188.5)"><circle r="23.5" fill="#62a98a" stroke="#2e6d52" stroke-width="2.6"/><circle cx="-1.5" cy="-1.5" r="18.4" fill="#7dbf9f"/><circle cx="-3" cy="-3" r="12.9" fill="#5c9f81"/><circle cx="-7" cy="-8" r="2.1" fill="#82c3a3"/><circle cx="-1.5" cy="-10" r="2.1" fill="#82c3a3"/><circle cx="-9" cy="-2" r="2.1" fill="#82c3a3"/><circle cx="-3" cy="-4.5" r="2.1" fill="#82c3a3"/><circle cx="2" cy="-6" r="2.1" fill="#82c3a3"/><circle cx="-6" cy="2.5" r="2.1" fill="#82c3a3"/><circle cx="0" cy="0.5" r="2.1" fill="#82c3a3"/></g><circle cx="930.8" cy="223.4" r="27" fill="#fff"/><g transform="translate(930.8,223.4)"><circle r="23.2" fill="#62a98a" stroke="#2e6d52" stroke-width="2.6"/><circle cx="-1.5" cy="-1.5" r="18.1" fill="#7dbf9f"/><circle cx="-3" cy="-3" r="12.7" fill="#5c9f81"/><circle cx="-7" cy="-8" r="2.1" fill="#82c3a3"/><circle cx="-1.5" cy="-10" r="2.1" fill="#82c3a3"/><circle cx="-9" cy="-2" r="2.1" fill="#82c3a3"/><circle cx="-3" cy="-4.5" r="2.1" fill="#82c3a3"/><circle cx="2" cy="-6" r="2.1" fill="#82c3a3"/><circle cx="-6" cy="2.5" r="2.1" fill="#82c3a3"/><circle cx="0" cy="0.5" r="2.1" fill="#82c3a3"/></g><circle cx="806.9" cy="295.6" r="28" fill="#fff"/><g transform="translate(806.9,295.6)"><circle r="24.2" fill="#62a98a" stroke="#2e6d52" stroke-width="2.6"/><circle cx="-1.5" cy="-1.5" r="18.9" fill="#7dbf9f"/><circle cx="-3" cy="-3" r="13.3" fill="#5c9f81"/><circle cx="-7" cy="-8" r="2.1" fill="#82c3a3"/><circle cx="-1.5" cy="-10" r="2.1" fill="#82c3a3"/><circle cx="-9" cy="-2" r="2.1" fill="#82c3a3"/><circle cx="-3" cy="-4.5" r="2.1" fill="#82c3a3"/><circle cx="2" cy="-6" r="2.1" fill="#82c3a3"/><circle cx="-6" cy="2.5" r="2.1" fill="#82c3a3"/><circle cx="0" cy="0.5" r="2.1" fill="#82c3a3"/></g><circle cx="1081.2" cy="141.1" r="27.3" fill="#fff"/><circle cx="1105.1" cy="113.6" r="27.3" fill="#fff"/><g transform="translate(1081.2,141.1)"><circle r="23.5" fill="#62a98a" stroke="#2e6d52" stroke-width="2.6"/><circle cx="-1.5" cy="-1.5" r="18.4" fill="#7dbf9f"/><circle cx="-3" cy="-3" r="12.9" fill="#5c9f81"/><circle cx="-7" cy="-8" r="2.1" fill="#82c3a3"/><circle cx="-1.5" cy="-10" r="2.1" fill="#82c3a3"/><circle cx="-9" cy="-2" r="2.1" fill="#82c3a3"/><circle cx="-3" cy="-4.5" r="2.1" fill="#82c3a3"/><circle cx="2" cy="-6" r="2.1" fill="#82c3a3"/><circle cx="-6" cy="2.5" r="2.1" fill="#82c3a3"/><circle cx="0" cy="0.5" r="2.1" fill="#82c3a3"/></g><g transform="translate(1105.1,113.6)"><circle r="23.5" fill="#62a98a" stroke="#2e6d52" stroke-width="2.6"/><circle cx="-1.5" cy="-1.5" r="18.4" fill="#7dbf9f"/><circle cx="-3" cy="-3" r="12.9" fill="#5c9f81"/><circle cx="-7" cy="-8" r="2.1" fill="#82c3a3"/><circle cx="-1.5" cy="-10" r="2.1" fill="#82c3a3"/><circle cx="-9" cy="-2" r="2.1" fill="#82c3a3"/><circle cx="-3" cy="-4.5" r="2.1" fill="#82c3a3"/><circle cx="2" cy="-6" r="2.1" fill="#82c3a3"/><circle cx="-6" cy="2.5" r="2.1" fill="#82c3a3"/><circle cx="0" cy="0.5" r="2.1" fill="#82c3a3"/></g><g transform="translate(936,98) rotate(56.9)"><path d="M44.9,-13.7 L46.5,-14.2 L48.2,-14.5 L49.8,-14.8 L51.5,-15.1 L53.2,-15.4 L54.8,-15.9 L56.3,-16.6 L57.8,-17.5 L59.1,-18.6 L60.4,-19.9 L61.7,-21.2 L63.1,-22.4 L64.5,-23.4 L66,-24.1 L67.6,-24.6 L69.3,-24.7 L71.1,-24.7 L73,-24.5 L74.8,-24.3 L76.7,-24.1 L78.5,-24 L80.3,-24.1 L81.9,-24.4 L83.5,-25 L84.9,-25.9 L86.3,-27 L87.6,-28.3 L88.9,-29.7M46.9,-8.2 L48.8,-8.4 L50.7,-8.5 L52.6,-8.7 L54.5,-9.1 L56.3,-9.6 L58.1,-10.3 L59.8,-11.1 L61.6,-12.1 L63.3,-13.2 L65,-14.2 L66.8,-15 L68.6,-15.4 L70.5,-15.5 L72.5,-15.3 L74.5,-14.9 L76.6,-14.5 L78.6,-14.1 L80.6,-13.7 L82.6,-13.5 L84.5,-13.6 L86.4,-14 L88.2,-14.6 L89.9,-15.5 L91.6,-16.6 L93.3,-17.8 L95,-19 L96.7,-20.2 L98.4,-21.2M48.9,-2.7 L50.7,-2.7 L52.5,-2.7 L54.3,-2.9 L56,-3.2 L57.8,-3.7 L59.5,-4.3 L61.3,-5 L63,-5.5 L64.8,-5.9 L66.6,-6.1 L68.4,-5.9 L70.2,-5.3 L72,-4.6 L73.9,-3.9 L75.7,-3.2 L77.5,-2.7 L79.3,-2.4 L81.1,-2.4 L82.9,-2.7 L84.6,-3.2 L86.4,-4 L88.1,-4.9 L89.8,-5.9 L91.5,-6.9 L93.3,-7.7 L95,-8.3 L96.8,-8.7 L98.5,-8.7M48.9,2.7 L50.6,2.9 L52.3,2.9 L53.9,2.7 L55.6,2.5 L57.3,2.2 L59,2 L60.7,2 L62.4,2.2 L64,2.7 L65.6,3.4 L67.2,4.3 L68.8,5.3 L70.5,6.1 L72.1,6.7 L73.7,7.1 L75.4,7.1 L77.1,6.9 L78.8,6.4 L80.5,5.8 L82.3,5 L84,4.3 L85.7,3.7 L87.4,3.2 L89.1,3 L90.8,3.1 L92.4,3.4 L94.1,4.1 L95.7,4.9M46.9,8.2 L48.8,8.4 L50.7,8.6 L52.6,8.7 L54.5,8.9 L56.4,9.2 L58.2,9.7 L60,10.4 L61.7,11.4 L63.4,12.4 L65.1,13.6 L66.8,14.7 L68.6,15.4 L70.5,15.8 L72.4,16 L74.3,15.9 L76.3,15.6 L78.4,15.2 L80.4,14.7 L82.4,14.3 L84.4,14.1 L86.3,14.1 L88.2,14.3 L90,14.9 L91.8,15.7 L93.5,16.7 L95.2,17.9 L96.9,19.2 L98.6,20.4M44.9,13.7 L46.7,14 L48.4,14.5 L50.1,15 L51.8,15.7 L53.3,16.6 L54.9,17.6 L56.3,18.8 L57.8,19.9 L59.3,21 L60.9,21.9 L62.5,22.6 L64.3,22.9 L66.2,22.9 L68.2,22.7 L70.2,22.5 L72.1,22.3 L74,22.3 L75.9,22.4 L77.6,22.8 L79.3,23.5 L80.8,24.4 L82.3,25.6 L83.7,26.9 L85.1,28.4 L86.5,29.8 L87.9,31.1 L89.4,32.2 L90.9,33.2" stroke="#fff" stroke-width="4.2" fill="none" stroke-linecap="round" stroke-linejoin="round"/><path d="M44.9,-13.7 L46.5,-14.2 L48.2,-14.5 L49.8,-14.8 L51.5,-15.1 L53.2,-15.4 L54.8,-15.9 L56.3,-16.6 L57.8,-17.5 L59.1,-18.6 L60.4,-19.9 L61.7,-21.2 L63.1,-22.4 L64.5,-23.4 L66,-24.1 L67.6,-24.6 L69.3,-24.7 L71.1,-24.7 L73,-24.5 L74.8,-24.3 L76.7,-24.1 L78.5,-24 L80.3,-24.1 L81.9,-24.4 L83.5,-25 L84.9,-25.9 L86.3,-27 L87.6,-28.3 L88.9,-29.7M46.9,-8.2 L48.8,-8.4 L50.7,-8.5 L52.6,-8.7 L54.5,-9.1 L56.3,-9.6 L58.1,-10.3 L59.8,-11.1 L61.6,-12.1 L63.3,-13.2 L65,-14.2 L66.8,-15 L68.6,-15.4 L70.5,-15.5 L72.5,-15.3 L74.5,-14.9 L76.6,-14.5 L78.6,-14.1 L80.6,-13.7 L82.6,-13.5 L84.5,-13.6 L86.4,-14 L88.2,-14.6 L89.9,-15.5 L91.6,-16.6 L93.3,-17.8 L95,-19 L96.7,-20.2 L98.4,-21.2M48.9,-2.7 L50.7,-2.7 L52.5,-2.7 L54.3,-2.9 L56,-3.2 L57.8,-3.7 L59.5,-4.3 L61.3,-5 L63,-5.5 L64.8,-5.9 L66.6,-6.1 L68.4,-5.9 L70.2,-5.3 L72,-4.6 L73.9,-3.9 L75.7,-3.2 L77.5,-2.7 L79.3,-2.4 L81.1,-2.4 L82.9,-2.7 L84.6,-3.2 L86.4,-4 L88.1,-4.9 L89.8,-5.9 L91.5,-6.9 L93.3,-7.7 L95,-8.3 L96.8,-8.7 L98.5,-8.7M48.9,2.7 L50.6,2.9 L52.3,2.9 L53.9,2.7 L55.6,2.5 L57.3,2.2 L59,2 L60.7,2 L62.4,2.2 L64,2.7 L65.6,3.4 L67.2,4.3 L68.8,5.3 L70.5,6.1 L72.1,6.7 L73.7,7.1 L75.4,7.1 L77.1,6.9 L78.8,6.4 L80.5,5.8 L82.3,5 L84,4.3 L85.7,3.7 L87.4,3.2 L89.1,3 L90.8,3.1 L92.4,3.4 L94.1,4.1 L95.7,4.9M46.9,8.2 L48.8,8.4 L50.7,8.6 L52.6,8.7 L54.5,8.9 L56.4,9.2 L58.2,9.7 L60,10.4 L61.7,11.4 L63.4,12.4 L65.1,13.6 L66.8,14.7 L68.6,15.4 L70.5,15.8 L72.4,16 L74.3,15.9 L76.3,15.6 L78.4,15.2 L80.4,14.7 L82.4,14.3 L84.4,14.1 L86.3,14.1 L88.2,14.3 L90,14.9 L91.8,15.7 L93.5,16.7 L95.2,17.9 L96.9,19.2 L98.6,20.4M44.9,13.7 L46.7,14 L48.4,14.5 L50.1,15 L51.8,15.7 L53.3,16.6 L54.9,17.6 L56.3,18.8 L57.8,19.9 L59.3,21 L60.9,21.9 L62.5,22.6 L64.3,22.9 L66.2,22.9 L68.2,22.7 L70.2,22.5 L72.1,22.3 L74,22.3 L75.9,22.4 L77.6,22.8 L79.3,23.5 L80.8,24.4 L82.3,25.6 L83.7,26.9 L85.1,28.4 L86.5,29.8 L87.9,31.1 L89.4,32.2 L90.9,33.2" stroke="#33236a" stroke-width="1.9" fill="none" stroke-linecap="round" stroke-linejoin="round"/><path d="M17.5,-17.5 L39.2,-16.6 Q54.9,-15.8 54.9,0 L54.9,0 Q54.9,15.8 39.2,16.6 L17.5,17.5 A17.5,17.5 0 0 1 17.5,-17.5 Z" fill="#fff" stroke="#fff" stroke-width="5"/><path d="M17.5,-17.5 L39.2,-16.6 Q54.9,-15.8 54.9,0 L54.9,0 Q54.9,15.8 39.2,16.6 L17.5,17.5 A17.5,17.5 0 0 1 17.5,-17.5 Z" fill="#7b4db3" stroke="#4a2a86" stroke-width="2.4"/><ellipse cx="18.4" cy="0" rx="15.8" ry="13.7" fill="#9272c6"/><ellipse cx="13.1" cy="-1" rx="8.8" ry="9.6" fill="#b59fdb"/></g><g transform="translate(901,299) rotate(-137.9)"><path d="M46.6,-14 L48.3,-14.6 L49.9,-15.1 L51.7,-15.5 L53.4,-15.9 L55.1,-16.4 L56.7,-16.9 L58.3,-17.7 L59.7,-18.7 L61.1,-19.9 L62.4,-21.3 L63.7,-22.7 L65,-24 L66.5,-25.1 L68,-25.9 L69.7,-26.4 L71.4,-26.7 L73.3,-26.8 L75.2,-26.7 L77.1,-26.6 L79.1,-26.5 L80.9,-26.5 L82.7,-26.8 L84.4,-27.2 L86,-27.9 L87.5,-28.9 L88.8,-30.1 L90.1,-31.5 L91.4,-33M48.6,-8.4 L50.6,-8.7 L52.6,-8.9 L54.5,-9.2 L56.5,-9.6 L58.3,-10.2 L60.2,-10.9 L62,-11.9 L63.7,-13 L65.5,-14.1 L67.2,-15.1 L69.1,-16 L71,-16.5 L73,-16.6 L75,-16.5 L77.1,-16.3 L79.2,-15.9 L81.3,-15.5 L83.4,-15.3 L85.5,-15.2 L87.5,-15.3 L89.4,-15.7 L91.2,-16.4 L93,-17.4 L94.8,-18.6 L96.5,-19.8 L98.2,-21.1 L99.9,-22.4 L101.7,-23.5M50.6,-2.8 L52.5,-2.8 L54.4,-2.8 L56.2,-3 L58,-3.4 L59.8,-3.9 L61.6,-4.6 L63.4,-5.2 L65.3,-5.8 L67.1,-6.2 L68.9,-6.4 L70.8,-6.2 L72.7,-5.7 L74.6,-5 L76.5,-4.3 L78.4,-3.6 L80.3,-3.1 L82.2,-2.9 L84.1,-2.9 L85.9,-3.2 L87.7,-3.7 L89.5,-4.5 L91.3,-5.5 L93.1,-6.5 L94.8,-7.5 L96.6,-8.3 L98.4,-9 L100.3,-9.4 L102.1,-9.5M50.6,2.8 L52.4,3 L54.1,3 L55.9,2.9 L57.6,2.6 L59.4,2.4 L61.1,2.3 L62.9,2.3 L64.6,2.5 L66.3,3 L68,3.7 L69.6,4.6 L71.3,5.6 L73,6.5 L74.7,7.1 L76.4,7.5 L78.1,7.5 L79.9,7.4 L81.7,6.9 L83.4,6.3 L85.2,5.6 L87,4.8 L88.8,4.2 L90.6,3.8 L92.4,3.6 L94.1,3.7 L95.8,4.1 L97.5,4.7 L99.2,5.6M48.6,8.4 L50.6,8.7 L52.6,9 L54.5,9.2 L56.5,9.4 L58.4,9.8 L60.3,10.4 L62.1,11.2 L63.9,12.2 L65.7,13.3 L67.4,14.5 L69.1,15.7 L71,16.5 L72.9,17 L74.8,17.2 L76.9,17.2 L78.9,17 L81.1,16.6 L83.2,16.3 L85.3,15.9 L87.3,15.8 L89.4,15.9 L91.3,16.2 L93.2,16.8 L95,17.7 L96.7,18.8 L98.5,20 L100.2,21.4 L101.9,22.6M46.6,14 L48.4,14.5 L50.2,15.1 L51.9,15.8 L53.6,16.6 L55.2,17.5 L56.7,18.7 L58.2,19.9 L59.7,21.2 L61.2,22.4 L62.8,23.4 L64.5,24.2 L66.3,24.5 L68.3,24.7 L70.3,24.6 L72.3,24.6 L74.4,24.5 L76.4,24.6 L78.3,24.8 L80,25.4 L81.7,26.1 L83.3,27.2 L84.8,28.4 L86.2,29.9 L87.6,31.4 L88.9,32.9 L90.3,34.3 L91.8,35.5 L93.4,36.6" stroke="#fff" stroke-width="4.2" fill="none" stroke-linecap="round" stroke-linejoin="round"/><path d="M46.6,-14 L48.3,-14.6 L49.9,-15.1 L51.7,-15.5 L53.4,-15.9 L55.1,-16.4 L56.7,-16.9 L58.3,-17.7 L59.7,-18.7 L61.1,-19.9 L62.4,-21.3 L63.7,-22.7 L65,-24 L66.5,-25.1 L68,-25.9 L69.7,-26.4 L71.4,-26.7 L73.3,-26.8 L75.2,-26.7 L77.1,-26.6 L79.1,-26.5 L80.9,-26.5 L82.7,-26.8 L84.4,-27.2 L86,-27.9 L87.5,-28.9 L88.8,-30.1 L90.1,-31.5 L91.4,-33M48.6,-8.4 L50.6,-8.7 L52.6,-8.9 L54.5,-9.2 L56.5,-9.6 L58.3,-10.2 L60.2,-10.9 L62,-11.9 L63.7,-13 L65.5,-14.1 L67.2,-15.1 L69.1,-16 L71,-16.5 L73,-16.6 L75,-16.5 L77.1,-16.3 L79.2,-15.9 L81.3,-15.5 L83.4,-15.3 L85.5,-15.2 L87.5,-15.3 L89.4,-15.7 L91.2,-16.4 L93,-17.4 L94.8,-18.6 L96.5,-19.8 L98.2,-21.1 L99.9,-22.4 L101.7,-23.5M50.6,-2.8 L52.5,-2.8 L54.4,-2.8 L56.2,-3 L58,-3.4 L59.8,-3.9 L61.6,-4.6 L63.4,-5.2 L65.3,-5.8 L67.1,-6.2 L68.9,-6.4 L70.8,-6.2 L72.7,-5.7 L74.6,-5 L76.5,-4.3 L78.4,-3.6 L80.3,-3.1 L82.2,-2.9 L84.1,-2.9 L85.9,-3.2 L87.7,-3.7 L89.5,-4.5 L91.3,-5.5 L93.1,-6.5 L94.8,-7.5 L96.6,-8.3 L98.4,-9 L100.3,-9.4 L102.1,-9.5M50.6,2.8 L52.4,3 L54.1,3 L55.9,2.9 L57.6,2.6 L59.4,2.4 L61.1,2.3 L62.9,2.3 L64.6,2.5 L66.3,3 L68,3.7 L69.6,4.6 L71.3,5.6 L73,6.5 L74.7,7.1 L76.4,7.5 L78.1,7.5 L79.9,7.4 L81.7,6.9 L83.4,6.3 L85.2,5.6 L87,4.8 L88.8,4.2 L90.6,3.8 L92.4,3.6 L94.1,3.7 L95.8,4.1 L97.5,4.7 L99.2,5.6M48.6,8.4 L50.6,8.7 L52.6,9 L54.5,9.2 L56.5,9.4 L58.4,9.8 L60.3,10.4 L62.1,11.2 L63.9,12.2 L65.7,13.3 L67.4,14.5 L69.1,15.7 L71,16.5 L72.9,17 L74.8,17.2 L76.9,17.2 L78.9,17 L81.1,16.6 L83.2,16.3 L85.3,15.9 L87.3,15.8 L89.4,15.9 L91.3,16.2 L93.2,16.8 L95,17.7 L96.7,18.8 L98.5,20 L100.2,21.4 L101.9,22.6M46.6,14 L48.4,14.5 L50.2,15.1 L51.9,15.8 L53.6,16.6 L55.2,17.5 L56.7,18.7 L58.2,19.9 L59.7,21.2 L61.2,22.4 L62.8,23.4 L64.5,24.2 L66.3,24.5 L68.3,24.7 L70.3,24.6 L72.3,24.6 L74.4,24.5 L76.4,24.6 L78.3,24.8 L80,25.4 L81.7,26.1 L83.3,27.2 L84.8,28.4 L86.2,29.9 L87.6,31.4 L88.9,32.9 L90.3,34.3 L91.8,35.5 L93.4,36.6" stroke="#33236a" stroke-width="1.9" fill="none" stroke-linecap="round" stroke-linejoin="round"/><path d="M18,-18 L40.4,-17.1 Q56.6,-16.2 56.6,0 L56.6,0 Q56.6,16.2 40.4,17.1 L18,18 A18,18 0 0 1 18,-18 Z" fill="#fff" stroke="#fff" stroke-width="5"/><path d="M18,-18 L40.4,-17.1 Q56.6,-16.2 56.6,0 L56.6,0 Q56.6,16.2 40.4,17.1 L18,18 A18,18 0 0 1 18,-18 Z" fill="#7b4db3" stroke="#4a2a86" stroke-width="2.4"/><ellipse cx="18.9" cy="0" rx="16.2" ry="14" fill="#9272c6"/><ellipse cx="13.5" cy="-1" rx="9" ry="9.9" fill="#b59fdb"/></g><g transform="translate(1003.4,67.3) rotate(70.4)"><path d="M0,0 C8.1,-10.8 18.2,-15.3 30.4,-14.7 C38.9,-14.2 41.8,-9 40.5,0 C41.8,9 38.9,14.2 30.4,14.7 C18.2,15.3 8.1,10.8 0,0Z" fill="#fff" stroke="#fff" stroke-width="5"/></g><g transform="translate(1031.6,146.8) rotate(-109.5)"><path d="M0,0 C8.8,-11.2 19.7,-15.8 32.9,-15.2 C42.1,-14.7 45.1,-9.3 43.8,0 C45.1,9.3 42.1,14.7 32.9,15.2 C19.7,15.8 8.8,11.2 0,0Z" fill="#fff" stroke="#fff" stroke-width="5"/></g><g transform="translate(1003.4,67.3) rotate(70.4)"><path d="M0,0 C8.1,-10.8 18.2,-15.3 30.4,-14.7 C38.9,-14.2 41.8,-9 40.5,0 C41.8,9 38.9,14.2 30.4,14.7 C18.2,15.3 8.1,10.8 0,0Z" fill="#fce3b0" stroke="#e6a63a" stroke-width="1.7"/><path d="M11.4,0 Q16.2,-9.8 29.2,-6 Q34.5,1.5 28.4,6.8 Q16.2,9 11.4,0 Z" fill="#fdebc8" stroke="#efb650" stroke-width="2.2" stroke-linejoin="round"/><path d="M36.5,-10.8 Q42.6,0 36.5,10.8" stroke="#f0b247" stroke-width="3" fill="none" stroke-linecap="round"/></g><g transform="translate(1031.6,146.8) rotate(-109.5)"><path d="M0,0 C8.8,-11.2 19.7,-15.8 32.9,-15.2 C42.1,-14.7 45.1,-9.3 43.8,0 C45.1,9.3 42.1,14.7 32.9,15.2 C19.7,15.8 8.8,11.2 0,0Z" fill="#fce3b0" stroke="#e6a63a" stroke-width="1.7"/><path d="M12.3,0 Q17.5,-10.1 31.5,-6.2 Q37.2,1.6 30.7,7 Q17.5,9.3 12.3,0 Z" fill="#fdebc8" stroke="#efb650" stroke-width="2.2" stroke-linejoin="round"/><path d="M39.4,-11.2 Q46,0 39.4,11.2" stroke="#f0b247" stroke-width="3" fill="none" stroke-linecap="round"/></g><g transform="translate(917,272.2) rotate(-5.3)"><path d="M0,0 C7.5,-10.4 16.9,-14.8 28.2,-14.2 C36.2,-13.8 38.8,-8.7 37.7,0 C38.8,8.7 36.2,13.8 28.2,14.2 C16.9,14.8 7.5,10.4 0,0Z" fill="#fff" stroke="#fff" stroke-width="5"/></g><g transform="translate(1000.2,262.8) rotate(172.6)"><path d="M0,0 C9.2,-11.2 20.7,-15.8 34.6,-15.2 C44.2,-14.7 47.5,-9.3 46.1,0 C47.5,9.3 44.2,14.7 34.6,15.2 C20.7,15.8 9.2,11.2 0,0Z" fill="#fff" stroke="#fff" stroke-width="5"/></g><g transform="translate(917,272.2) rotate(-5.3)"><path d="M0,0 C7.5,-10.4 16.9,-14.8 28.2,-14.2 C36.2,-13.8 38.8,-8.7 37.7,0 C38.8,8.7 36.2,13.8 28.2,14.2 C16.9,14.8 7.5,10.4 0,0Z" fill="#fce3b0" stroke="#e6a63a" stroke-width="1.7"/><path d="M10.5,0 Q15.1,-9.4 27.1,-5.8 Q32,1.5 26.4,6.5 Q15.1,8.7 10.5,0 Z" fill="#fdebc8" stroke="#efb650" stroke-width="2.2" stroke-linejoin="round"/><path d="M33.9,-10.4 Q39.5,0 33.9,10.4" stroke="#f0b247" stroke-width="3" fill="none" stroke-linecap="round"/></g><g transform="translate(1000.2,262.8) rotate(172.6)"><path d="M0,0 C9.2,-11.2 20.7,-15.8 34.6,-15.2 C44.2,-14.7 47.5,-9.3 46.1,0 C47.5,9.3 44.2,14.7 34.6,15.2 C20.7,15.8 9.2,11.2 0,0Z" fill="#fce3b0" stroke="#e6a63a" stroke-width="1.7"/><path d="M12.9,0 Q18.4,-10.1 33.2,-6.2 Q39.2,1.6 32.3,7 Q18.4,9.3 12.9,0 Z" fill="#fdebc8" stroke="#efb650" stroke-width="2.2" stroke-linejoin="round"/><path d="M41.5,-11.2 Q48.4,0 41.5,11.2" stroke="#f0b247" stroke-width="3" fill="none" stroke-linecap="round"/></g><g transform="translate(1037.2,213.2) rotate(-11.4)"><path d="M-26.7,-11.5L-26.7,-18.5M-26.7,11.5L-26.7,18.5M-19.1,-11.5L-19.1,-18.5M-19.1,11.5L-19.1,18.5M-11.5,-11.5L-11.5,-18.5M-11.5,11.5L-11.5,18.5M-3.8,-11.5L-3.8,-18.5M-3.8,11.5L-3.8,18.5M3.8,-11.5L3.8,-18.5M3.8,11.5L3.8,18.5M11.5,-11.5L11.5,-18.5M11.5,11.5L11.5,18.5M19.1,-11.5L19.1,-18.5M19.1,11.5L19.1,18.5M26.7,-11.5L26.7,-18.5M26.7,11.5L26.7,18.5M33.5,-9.3L37.6,-15M37.7,-3.6L44.3,-5.7M37.7,3.6L44.3,5.7M33.5,9.3L37.6,15M-33.5,-9.3L-37.6,-15M-37.7,-3.6L-44.3,-5.7M-37.7,3.6L-44.3,5.7M-33.5,9.3L-37.6,15" stroke="#fff" stroke-width="5.3" stroke-linecap="round"/><rect x="-41.2" y="-14.5" width="82.4" height="29" rx="14.5" fill="#fff"/></g><path transform="translate(1037.2,213.2) rotate(-11.4)" d="M-26.7,-11.5L-26.7,-18.5M-26.7,11.5L-26.7,18.5M-19.1,-11.5L-19.1,-18.5M-19.1,11.5L-19.1,18.5M-11.5,-11.5L-11.5,-18.5M-11.5,11.5L-11.5,18.5M-3.8,-11.5L-3.8,-18.5M-3.8,11.5L-3.8,18.5M3.8,-11.5L3.8,-18.5M3.8,11.5L3.8,18.5M11.5,-11.5L11.5,-18.5M11.5,11.5L11.5,18.5M19.1,-11.5L19.1,-18.5M19.1,11.5L19.1,18.5M26.7,-11.5L26.7,-18.5M26.7,11.5L26.7,18.5M33.5,-9.3L37.6,-15M37.7,-3.6L44.3,-5.7M37.7,3.6L44.3,5.7M33.5,9.3L37.6,15M-33.5,-9.3L-37.6,-15M-37.7,-3.6L-44.3,-5.7M-37.7,3.6L-44.3,5.7M-33.5,9.3L-37.6,15" stroke="#7a2110" stroke-width="3.1" stroke-linecap="round"/><rect transform="translate(1037.2,213.2) rotate(-11.4)" x="-39.2" y="-12.5" width="78.4" height="25" rx="12.5" fill="#7a2110"/><g transform="translate(1037.2,213.2) rotate(-11.4)"><rect x="-36.6" y="-9.9" width="73.2" height="19.8" rx="9.9" fill="#ef8c5f"/><rect x="-34.7" y="-8" width="52" height="16.1" rx="8" fill="#cd6a44"/><rect x="-29.6" y="-4.4" width="12.6" height="4" rx="2" fill="#f4a882"/><rect x="-15" y="1.2" width="12.6" height="4" rx="2" fill="#f4a882"/><rect x="0.6" y="-5.5" width="12.6" height="4" rx="2" fill="#f4a882"/></g><g transform="translate(1059.9,274.6) rotate(-23.9)"><path d="M-26.7,-11.5L-26.7,-18.5M-26.7,11.5L-26.7,18.5M-19.4,-11.5L-19.4,-18.5M-19.4,11.5L-19.4,18.5M-12.1,-11.5L-12.1,-18.5M-12.1,11.5L-12.1,18.5M-4.8,-11.5L-4.8,-18.5M-4.8,11.5L-4.8,18.5M2.5,-11.5L2.5,-18.5M2.5,11.5L2.5,18.5M9.8,-11.5L9.8,-18.5M9.8,11.5L9.8,18.5M17.1,-11.5L17.1,-18.5M17.1,11.5L17.1,18.5M24.4,-11.5L24.4,-18.5M24.4,11.5L24.4,18.5M31.7,-11.5L31.7,-18.5M31.7,11.5L31.7,18.5M-33.5,-9.3L-37.6,-15M-37.7,-3.6L-44.3,-5.7M-37.7,3.6L-44.3,5.7M-33.5,9.3L-37.6,15" stroke="#fff" stroke-width="5.3" stroke-linecap="round"/><rect x="-41.2" y="-14.5" width="82.5" height="29" rx="14.5" fill="#fff"/></g><g transform="translate(1117.4,234.3) rotate(-45.7)"><path d="M-32.8,-11.5L-32.8,-18.5M-32.8,11.5L-32.8,18.5M-25.2,-11.5L-25.2,-18.5M-25.2,11.5L-25.2,18.5M-17.6,-11.5L-17.6,-18.5M-17.6,11.5L-17.6,18.5M-10.1,-11.5L-10.1,-18.5M-10.1,11.5L-10.1,18.5M-2.5,-11.5L-2.5,-18.5M-2.5,11.5L-2.5,18.5M5.1,-11.5L5.1,-18.5M5.1,11.5L5.1,18.5M12.6,-11.5L12.6,-18.5M12.6,11.5L12.6,18.5M20.2,-11.5L20.2,-18.5M20.2,11.5L20.2,18.5M27.8,-11.5L27.8,-18.5M27.8,11.5L27.8,18.5M34.5,-9.3L38.6,-15M38.7,-3.6L45.4,-5.7M38.7,3.6L45.4,5.7M34.5,9.3L38.6,15" stroke="#fff" stroke-width="5.3" stroke-linecap="round"/><rect x="-42.3" y="-14.5" width="84.5" height="29" rx="14.5" fill="#fff"/></g><path transform="translate(1059.9,274.6) rotate(-23.9)" d="M-26.7,-11.5L-26.7,-18.5M-26.7,11.5L-26.7,18.5M-19.4,-11.5L-19.4,-18.5M-19.4,11.5L-19.4,18.5M-12.1,-11.5L-12.1,-18.5M-12.1,11.5L-12.1,18.5M-4.8,-11.5L-4.8,-18.5M-4.8,11.5L-4.8,18.5M2.5,-11.5L2.5,-18.5M2.5,11.5L2.5,18.5M9.8,-11.5L9.8,-18.5M9.8,11.5L9.8,18.5M17.1,-11.5L17.1,-18.5M17.1,11.5L17.1,18.5M24.4,-11.5L24.4,-18.5M24.4,11.5L24.4,18.5M31.7,-11.5L31.7,-18.5M31.7,11.5L31.7,18.5M-33.5,-9.3L-37.6,-15M-37.7,-3.6L-44.3,-5.7M-37.7,3.6L-44.3,5.7M-33.5,9.3L-37.6,15" stroke="#7a2110" stroke-width="3.1" stroke-linecap="round"/><path transform="translate(1117.4,234.3) rotate(-45.7)" d="M-32.8,-11.5L-32.8,-18.5M-32.8,11.5L-32.8,18.5M-25.2,-11.5L-25.2,-18.5M-25.2,11.5L-25.2,18.5M-17.6,-11.5L-17.6,-18.5M-17.6,11.5L-17.6,18.5M-10.1,-11.5L-10.1,-18.5M-10.1,11.5L-10.1,18.5M-2.5,-11.5L-2.5,-18.5M-2.5,11.5L-2.5,18.5M5.1,-11.5L5.1,-18.5M5.1,11.5L5.1,18.5M12.6,-11.5L12.6,-18.5M12.6,11.5L12.6,18.5M20.2,-11.5L20.2,-18.5M20.2,11.5L20.2,18.5M27.8,-11.5L27.8,-18.5M27.8,11.5L27.8,18.5M34.5,-9.3L38.6,-15M38.7,-3.6L45.4,-5.7M38.7,3.6L45.4,5.7M34.5,9.3L38.6,15" stroke="#7a2110" stroke-width="3.1" stroke-linecap="round"/><rect transform="translate(1059.9,274.6) rotate(-23.9)" x="-39.2" y="-12.5" width="78.5" height="25" rx="12.5" fill="#7a2110"/><rect transform="translate(1117.4,234.3) rotate(-45.7)" x="-40.3" y="-12.5" width="80.5" height="25" rx="12.5" fill="#7a2110"/><g transform="translate(1059.9,274.6) rotate(-23.9)"><rect x="-36.6" y="-9.9" width="73.3" height="19.8" rx="9.9" fill="#ef8c5f"/><rect x="-34.8" y="-8" width="52" height="16.1" rx="8" fill="#cd6a44"/><rect x="-29.6" y="-4.4" width="12.6" height="4" rx="2" fill="#f4a882"/><rect x="-15" y="1.2" width="12.6" height="4" rx="2" fill="#f4a882"/><rect x="0.6" y="-5.5" width="12.6" height="4" rx="2" fill="#f4a882"/></g><g transform="translate(1117.4,234.3) rotate(-45.7)"><rect x="-37.7" y="-9.9" width="75.3" height="19.8" rx="9.9" fill="#ef8c5f"/><rect x="-16.1" y="-8" width="51.9" height="16.1" rx="8" fill="#cd6a44"/><rect x="-11.1" y="-4.4" width="12.9" height="4" rx="2" fill="#f4a882"/><rect x="3.4" y="1.2" width="12.9" height="4" rx="2" fill="#f4a882"/><rect x="19" y="-5.5" width="12.9" height="4" rx="2" fill="#f4a882"/></g><path d="M247,418 L1166,555 L247,555Z" fill="url(#og)"/><path d="M247,418 L1166,555 L247,555Z" fill="url(#glow)"/><path transform="translate(286.1,494.5) rotate(67.6)" d="M-23.2,-9.8L-23.2,-16.2M-23.2,9.8L-23.2,16.2M-16.5,-9.8L-16.5,-16.2M-16.5,9.8L-16.5,16.2M-9.9,-9.8L-9.9,-16.2M-9.9,9.8L-9.9,16.2M-3.3,-9.8L-3.3,-16.2M-3.3,9.8L-3.3,16.2M3.3,-9.8L3.3,-16.2M3.3,9.8L3.3,16.2M9.9,-9.8L9.9,-16.2M9.9,9.8L9.9,16.2M16.5,-9.8L16.5,-16.2M16.5,9.8L16.5,16.2M23.2,-9.8L23.2,-16.2M23.2,9.8L23.2,16.2M28.9,-7.9L32.7,-13.1M32.4,-3L38.6,-5M32.4,3L38.6,5M28.9,7.9L32.7,13.1M-28.9,-7.9L-32.7,-13.1M-32.4,-3L-38.6,-5M-32.4,3L-38.6,5M-28.9,7.9L-32.7,13.1" stroke="#7a2110" stroke-width="2.9" stroke-linecap="round"/><rect transform="translate(286.1,494.5) rotate(67.6)" x="-33.9" y="-10.8" width="67.8" height="21.5" rx="10.8" fill="#7a2110"/><g transform="translate(286.1,494.5) rotate(67.6)"><rect x="-31.3" y="-8.2" width="62.6" height="16.3" rx="8.2" fill="#f29878"/><rect x="-29.7" y="-6.5" width="44.6" height="13.1" rx="6.5" fill="#cf6d4b"/><rect x="-25.3" y="-3.7" width="10.8" height="3.4" rx="1.7" fill="#f4a882"/><rect x="-12.8" y="0.9" width="10.8" height="3.4" rx="1.7" fill="#f4a882"/><rect x="0.6" y="-4.6" width="10.8" height="3.4" rx="1.7" fill="#f4a882"/></g><path d="M330.3,480.7L330.6,480.3L331,479.7L331.3,479.2L331.7,478.6L332.1,477.9L332.7,477.1L333.4,476.3L334.3,476.8L335.1,477.2L335.9,477.4L336.7,477.7L337.5,477.9L338.2,478.1L339,478.2L339.8,478.2L340.6,478L341.5,477.8L342.1,478.8L342.8,479.4L343.5,479.8L344.2,480.1L345,480.2L345.8,480.2L346.6,480.2L347.5,480L348.4,479.7L349.5,479.5L349.9,480.4L350.3,481.2L350.5,481.8L350.7,482.5L350.7,483.2L350.7,484L350.8,484.8L351,485.6L351.3,486.4L351.6,487.2L350.8,487.9L350.2,488.7L349.9,489.4L349.6,490.2L349.5,491L349.6,491.8L349.8,492.6L350.1,493.5L350.7,494.3L351.2,495.2L350.6,495.9L350.3,496.7L350.1,497.5L350,498.3L349.9,499.1L350,499.9L350.1,500.8L350.4,501.6L350.8,502.3L351.2,503.1L350.5,504L350.1,504.9L349.9,505.8L349.9,506.6L350,507.4L350.3,508.2L350.7,508.9L351.2,509.6L352,510.2L352.7,510.9L352.3,511.8L352,512.5L351.8,513.2L351.5,513.8L351.2,514.3L350.7,514.7L350.1,515.1L349.4,515.4L348.5,515.7L347.6,515.7L347.3,514.6L347,513.7L346.7,512.9L346.5,512.3L346.1,511.6L345.6,511.1L345,510.6L344.3,510.2L343.4,509.8L342.5,509.4L342.6,508.4L342.4,507.6L342.1,506.9L341.8,506.2L341.4,505.5L340.9,504.8L340.4,504.2L339.8,503.6L339.1,503L338.5,502.4L338.9,501.4L339,500.4L339,499.5L338.9,498.6L338.6,497.8L338.3,497.1L337.7,496.5L337.1,495.9L336.2,495.5L335.4,495L335.4,494.1L335.2,493.3L334.8,492.6L334.4,491.9L333.9,491.3L333.3,490.7L332.6,490.2L331.9,489.6L331.1,489.2L330.5,488.6L330.7,487.6L330.9,486.6L330.9,485.7L330.8,484.9L330.7,484.1L330.5,483.4L330.2,482.7L329.8,482.1L329.3,481.5L329,480.8Z" fill="#fff" stroke="#fff" stroke-width="5" stroke-linejoin="round" opacity="0.6"/><path d="M330.3,480.7L330.6,480.3L331,479.7L331.3,479.2L331.7,478.6L332.1,477.9L332.7,477.1L333.4,476.3L334.3,476.8L335.1,477.2L335.9,477.4L336.7,477.7L337.5,477.9L338.2,478.1L339,478.2L339.8,478.2L340.6,478L341.5,477.8L342.1,478.8L342.8,479.4L343.5,479.8L344.2,480.1L345,480.2L345.8,480.2L346.6,480.2L347.5,480L348.4,479.7L349.5,479.5L349.9,480.4L350.3,481.2L350.5,481.8L350.7,482.5L350.7,483.2L350.7,484L350.8,484.8L351,485.6L351.3,486.4L351.6,487.2L350.8,487.9L350.2,488.7L349.9,489.4L349.6,490.2L349.5,491L349.6,491.8L349.8,492.6L350.1,493.5L350.7,494.3L351.2,495.2L350.6,495.9L350.3,496.7L350.1,497.5L350,498.3L349.9,499.1L350,499.9L350.1,500.8L350.4,501.6L350.8,502.3L351.2,503.1L350.5,504L350.1,504.9L349.9,505.8L349.9,506.6L350,507.4L350.3,508.2L350.7,508.9L351.2,509.6L352,510.2L352.7,510.9L352.3,511.8L352,512.5L351.8,513.2L351.5,513.8L351.2,514.3L350.7,514.7L350.1,515.1L349.4,515.4L348.5,515.7L347.6,515.7L347.3,514.6L347,513.7L346.7,512.9L346.5,512.3L346.1,511.6L345.6,511.1L345,510.6L344.3,510.2L343.4,509.8L342.5,509.4L342.6,508.4L342.4,507.6L342.1,506.9L341.8,506.2L341.4,505.5L340.9,504.8L340.4,504.2L339.8,503.6L339.1,503L338.5,502.4L338.9,501.4L339,500.4L339,499.5L338.9,498.6L338.6,497.8L338.3,497.1L337.7,496.5L337.1,495.9L336.2,495.5L335.4,495L335.4,494.1L335.2,493.3L334.8,492.6L334.4,491.9L333.9,491.3L333.3,490.7L332.6,490.2L331.9,489.6L331.1,489.2L330.5,488.6L330.7,487.6L330.9,486.6L330.9,485.7L330.8,484.9L330.7,484.1L330.5,483.4L330.2,482.7L329.8,482.1L329.3,481.5L329,480.8Z" fill="#eda184" stroke="#b8644a" stroke-width="1.9" stroke-linejoin="round"/><circle cx="340" cy="486" r="4" fill="#d58364" opacity="0.75"/><circle cx="347" cy="505" r="3" fill="#d58364" opacity="0.75"/><path d="M370.1,498.2L370.5,497.6L370.8,496.8L370.9,496L371,495.2L371,494.3L370.9,493.2L370.9,492.3L371.9,491.9L372.6,491.5L373.3,491L373.9,490.5L374.5,489.9L375.1,489.4L375.6,488.8L376,488.1L376.4,487.3L376.8,486.7L377.9,486.7L378.8,486.6L379.5,486.4L380.2,486.1L380.9,485.6L381.4,485L381.9,484.4L382.4,483.6L382.8,482.6L383.4,482L384.4,482.2L385.2,482.2L386.1,482.1L386.8,482.1L387.6,482.1L388.4,482L389.1,481.9L389.9,481.8L390.7,481.5L391.5,481.8L392.1,482.6L392.6,483.3L393.2,483.8L393.9,484.2L394.5,484.5L395.4,484.7L396.2,484.7L397.1,484.7L398.1,484.6L398.9,484.9L399.3,485.7L399.7,486.4L400.1,487.1L400.5,487.7L400.9,488.3L401.2,489L401.6,489.7L402,490.4L402.5,491.1L402.3,492L401.7,492.8L401.2,493.5L400.9,494.3L400.6,495L400.6,495.8L400.6,496.5L400.7,497.3L401,498.1L401.5,499.1L401.2,499.9L400.6,500.5L400.1,501.2L399.7,501.8L399.4,502.6L399.1,503.3L398.8,504L398.5,504.8L398.3,505.6L398.2,506.6L397.3,506.8L396.3,507L395.4,507.2L394.6,507.4L393.9,507.7L393.3,508.1L392.9,508.4L392.3,509L391.9,509.5L391.2,510.3L390.7,509.7L390.4,509L390.1,508.3L389.7,507.6L389.3,507L388.9,506.3L388.4,505.7L387.8,505L387.1,504.5L386.2,504.2L386.3,503.1L386,502.1L385.2,501.4L383.9,501.1L382.9,501.2L382,501.5L381.3,501.9L380.7,502.5L380.1,503.3L379.9,504.5L378.9,504.5L378.1,504.8L377.4,505.2L376.9,505.5L376.4,505.8L375.8,506L375.1,506.1L374.3,506.1L373.3,506.1L372.2,506.3L372.1,505L371.8,504.1L371.5,503.3L371.2,502.5L370.8,501.8L370.4,501.2L370,500.7L369.6,500.3L369,499.8L368.4,499.1L369.2,498.6Z" fill="#fff" stroke="#fff" stroke-width="5" stroke-linejoin="round" opacity="0.6"/><path d="M370.1,498.2L370.5,497.6L370.8,496.8L370.9,496L371,495.2L371,494.3L370.9,493.2L370.9,492.3L371.9,491.9L372.6,491.5L373.3,491L373.9,490.5L374.5,489.9L375.1,489.4L375.6,488.8L376,488.1L376.4,487.3L376.8,486.7L377.9,486.7L378.8,486.6L379.5,486.4L380.2,486.1L380.9,485.6L381.4,485L381.9,484.4L382.4,483.6L382.8,482.6L383.4,482L384.4,482.2L385.2,482.2L386.1,482.1L386.8,482.1L387.6,482.1L388.4,482L389.1,481.9L389.9,481.8L390.7,481.5L391.5,481.8L392.1,482.6L392.6,483.3L393.2,483.8L393.9,484.2L394.5,484.5L395.4,484.7L396.2,484.7L397.1,484.7L398.1,484.6L398.9,484.9L399.3,485.7L399.7,486.4L400.1,487.1L400.5,487.7L400.9,488.3L401.2,489L401.6,489.7L402,490.4L402.5,491.1L402.3,492L401.7,492.8L401.2,493.5L400.9,494.3L400.6,495L400.6,495.8L400.6,496.5L400.7,497.3L401,498.1L401.5,499.1L401.2,499.9L400.6,500.5L400.1,501.2L399.7,501.8L399.4,502.6L399.1,503.3L398.8,504L398.5,504.8L398.3,505.6L398.2,506.6L397.3,506.8L396.3,507L395.4,507.2L394.6,507.4L393.9,507.7L393.3,508.1L392.9,508.4L392.3,509L391.9,509.5L391.2,510.3L390.7,509.7L390.4,509L390.1,508.3L389.7,507.6L389.3,507L388.9,506.3L388.4,505.7L387.8,505L387.1,504.5L386.2,504.2L386.3,503.1L386,502.1L385.2,501.4L383.9,501.1L382.9,501.2L382,501.5L381.3,501.9L380.7,502.5L380.1,503.3L379.9,504.5L378.9,504.5L378.1,504.8L377.4,505.2L376.9,505.5L376.4,505.8L375.8,506L375.1,506.1L374.3,506.1L373.3,506.1L372.2,506.3L372.1,505L371.8,504.1L371.5,503.3L371.2,502.5L370.8,501.8L370.4,501.2L370,500.7L369.6,500.3L369,499.8L368.4,499.1L369.2,498.6Z" fill="#8c6fca" stroke="#4b3593" stroke-width="1.9" stroke-linejoin="round"/><circle cx="380" cy="493" r="3" fill="#6f55b0" opacity="0.75"/><circle cx="393" cy="490" r="3" fill="#6f55b0" opacity="0.75"/><path d="M417.7,474.1L418.1,473.6L418.5,473L418.9,472.3L419.2,471.6L419.6,470.7L419.9,469.8L420.3,468.8L421.3,469L422.2,469L423,468.9L423.8,468.9L424.5,468.8L425.2,468.8L425.9,468.8L426.5,468.8L427.3,468.8L428.2,468.9L428.4,470L428.7,470.8L429.1,471.4L429.6,472L430.2,472.5L430.9,472.9L431.6,473.2L432.5,473.5L433.5,473.7L434.5,474L434.5,474.9L434.8,475.7L435.1,476.5L435.4,477.2L435.8,477.9L436.2,478.6L436.6,479.2L437.1,479.9L437.7,480.5L438.2,481.1L437.5,482.1L437.1,482.8L436.8,483.5L436.6,484.1L436.5,484.8L436.5,485.5L436.6,486.2L436.6,487L436.7,487.9L436.6,488.9L435.7,489.1L434.9,489.5L434.3,489.9L433.6,490.4L433,491L432.5,491.6L432,492.3L431.6,493.1L431.5,493.9L431.4,494.8L430.3,495.2L429.5,495.8L429,496.6L428.6,497.5L428.5,498.5L428.7,499.6L429.2,500.5L430,501.3L431.1,501.6L432.1,501.8L432.4,502.6L433,503.2L433.7,503.7L434.3,504.1L435.1,504.5L435.8,504.8L436.5,505.1L437.3,505.4L438.2,505.6L438.9,506.1L438.7,507.2L438.6,508.1L438.5,508.9L438.4,509.7L438.5,510.4L438.6,511L438.9,511.7L439.3,512.4L439.8,513.1L440.1,514L439.4,514.6L438.9,515.1L438.4,515.7L438,516.3L437.6,517L437.2,517.6L436.8,518.3L436.3,519.1L435.9,519.9L435.3,520.5L434.2,520.2L433.3,520L432.5,519.8L431.9,519.6L431.2,519.5L430.5,519.5L429.7,519.6L429,519.8L428.1,520.2L427.3,520.5L426.7,519.8L426.1,519.3L425.5,519L424.8,518.6L424.2,518.3L423.5,518L422.8,517.6L422.1,517.1L421.3,516.6L420.8,515.9L421.2,514.9L421.4,514L421.6,513.2L421.7,512.3L421.7,511.5L421.7,510.8L421.4,510L421.1,509.3L420.5,508.6L420.1,507.8L420.6,507L420.7,506.2L420.8,505.4L420.7,504.6L420.5,503.8L420.2,503.1L420,502.3L419.7,501.5L419.3,500.6L419.2,499.7L420.1,499.1L420.7,498.5L421.3,497.8L421.8,497.1L422.2,496.4L422.5,495.5L422.6,494.7L422.5,493.8L422.1,492.9L421.8,492L422.2,491.1L422.3,490.2L422.1,489.3L421.7,488.5L421.3,487.8L420.7,487.2L420,486.6L419.2,486.1L418.3,485.7L417.7,485L417.9,484.1L418,483.2L418.1,482.3L418.1,481.5L418.1,480.7L417.9,479.9L417.6,479.1L417.3,478.4L416.7,477.8L416.4,477L416.9,476.2L417.2,475.4L417.4,475L417.6,474.4Z" fill="#fff" stroke="#fff" stroke-width="5" stroke-linejoin="round" opacity="0.6"/><path d="M417.7,474.1L418.1,473.6L418.5,473L418.9,472.3L419.2,471.6L419.6,470.7L419.9,469.8L420.3,468.8L421.3,469L422.2,469L423,468.9L423.8,468.9L424.5,468.8L425.2,468.8L425.9,468.8L426.5,468.8L427.3,468.8L428.2,468.9L428.4,470L428.7,470.8L429.1,471.4L429.6,472L430.2,472.5L430.9,472.9L431.6,473.2L432.5,473.5L433.5,473.7L434.5,474L434.5,474.9L434.8,475.7L435.1,476.5L435.4,477.2L435.8,477.9L436.2,478.6L436.6,479.2L437.1,479.9L437.7,480.5L438.2,481.1L437.5,482.1L437.1,482.8L436.8,483.5L436.6,484.1L436.5,484.8L436.5,485.5L436.6,486.2L436.6,487L436.7,487.9L436.6,488.9L435.7,489.1L434.9,489.5L434.3,489.9L433.6,490.4L433,491L432.5,491.6L432,492.3L431.6,493.1L431.5,493.9L431.4,494.8L430.3,495.2L429.5,495.8L429,496.6L428.6,497.5L428.5,498.5L428.7,499.6L429.2,500.5L430,501.3L431.1,501.6L432.1,501.8L432.4,502.6L433,503.2L433.7,503.7L434.3,504.1L435.1,504.5L435.8,504.8L436.5,505.1L437.3,505.4L438.2,505.6L438.9,506.1L438.7,507.2L438.6,508.1L438.5,508.9L438.4,509.7L438.5,510.4L438.6,511L438.9,511.7L439.3,512.4L439.8,513.1L440.1,514L439.4,514.6L438.9,515.1L438.4,515.7L438,516.3L437.6,517L437.2,517.6L436.8,518.3L436.3,519.1L435.9,519.9L435.3,520.5L434.2,520.2L433.3,520L432.5,519.8L431.9,519.6L431.2,519.5L430.5,519.5L429.7,519.6L429,519.8L428.1,520.2L427.3,520.5L426.7,519.8L426.1,519.3L425.5,519L424.8,518.6L424.2,518.3L423.5,518L422.8,517.6L422.1,517.1L421.3,516.6L420.8,515.9L421.2,514.9L421.4,514L421.6,513.2L421.7,512.3L421.7,511.5L421.7,510.8L421.4,510L421.1,509.3L420.5,508.6L420.1,507.8L420.6,507L420.7,506.2L420.8,505.4L420.7,504.6L420.5,503.8L420.2,503.1L420,502.3L419.7,501.5L419.3,500.6L419.2,499.7L420.1,499.1L420.7,498.5L421.3,497.8L421.8,497.1L422.2,496.4L422.5,495.5L422.6,494.7L422.5,493.8L422.1,492.9L421.8,492L422.2,491.1L422.3,490.2L422.1,489.3L421.7,488.5L421.3,487.8L420.7,487.2L420,486.6L419.2,486.1L418.3,485.7L417.7,485L417.9,484.1L418,483.2L418.1,482.3L418.1,481.5L418.1,480.7L417.9,479.9L417.6,479.1L417.3,478.4L416.7,477.8L416.4,477L416.9,476.2L417.2,475.4L417.4,475L417.6,474.4Z" fill="#eda184" stroke="#b8644a" stroke-width="1.9" stroke-linejoin="round"/><circle cx="430" cy="478" r="4" fill="#d58364" opacity="0.75"/><circle cx="433" cy="512" r="4" fill="#d58364" opacity="0.75"/><rect x="-44" y="-20" width="88" height="40" rx="20" transform="translate(933.5,412) rotate(48.2)" fill="#f6e2dc" stroke="#e4cfca" stroke-width="1.5"/><path transform="translate(933.5,412) rotate(48.2)" d="M-23,-9.5L-23,-15.3M-23,9.5L-23,15.3M-17.9,-9.5L-17.9,-15.3M-17.9,9.5L-17.9,15.3M-12.8,-9.5L-12.8,-15.3M-12.8,9.5L-12.8,15.3M-7.7,-9.5L-7.7,-15.3M-7.7,9.5L-7.7,15.3M-2.6,-9.5L-2.6,-15.3M-2.6,9.5L-2.6,15.3M2.6,-9.5L2.6,-15.3M2.6,9.5L2.6,15.3M7.7,-9.5L7.7,-15.3M7.7,9.5L7.7,15.3M12.8,-9.5L12.8,-15.3M12.8,9.5L12.8,15.3M17.9,-9.5L17.9,-15.3M17.9,9.5L17.9,15.3M23,-9.5L23,-15.3M23,9.5L23,15.3M27.8,-8.2L30.7,-13.3M31.3,-4.8L36.3,-7.7M32.5,0L38.3,0M31.3,4.7L36.3,7.6M27.8,8.2L30.7,13.3M-27.8,-8.2L-30.7,-13.3M-31.3,-4.8L-36.3,-7.7M-32.5,0L-38.3,0M-31.3,4.7L-36.3,7.6M-27.8,8.2L-30.7,13.3" stroke="#7a2110" stroke-width="2.3" stroke-linecap="round"/><rect transform="translate(933.5,412) rotate(48.2)" x="-33.5" y="-10.5" width="67.1" height="21" rx="10.5" fill="#7a2110"/><g transform="translate(933.5,412) rotate(48.2)"><rect x="-31.3" y="-8.3" width="62.7" height="16.6" rx="8.3" fill="#f39a6c"/><rect x="-29.8" y="-6.7" width="41.8" height="13.4" rx="6.7" fill="#cd6a44"/><rect x="-25.9" y="-3.7" width="10.7" height="3.4" rx="1.7" fill="#f4a882"/><rect x="-14.2" y="1" width="10.7" height="3.4" rx="1.7" fill="#f4a882"/><rect x="-1.7" y="-4.6" width="10.7" height="3.4" rx="1.7" fill="#f4a882"/></g><g stroke="#b5bad3" stroke-width="3"><circle cx="923.7" cy="484.8" r="23"/><circle cx="951.8" cy="498.3" r="23"/></g><g fill="#d5daf0"><circle cx="923.7" cy="484.8" r="22"/><circle cx="951.8" cy="498.3" r="22"/></g><g transform="translate(923.7,484.8)"><circle r="16.5" fill="#2e4aa6" stroke="#1f2f86" stroke-width="2"/><circle cx="2.5" cy="-2" r="11.9" fill="#4f6cc4"/><circle cx="3.5" cy="-3" r="7.9" fill="#3a58b4"/><circle cx="0" cy="-6" r="1.5" fill="#7d95dc"/><circle cx="4" cy="-7" r="1.5" fill="#7d95dc"/><circle cx="1" cy="-2" r="1.5" fill="#7d95dc"/><circle cx="6" cy="-3" r="1.5" fill="#7d95dc"/><circle cx="3" cy="1" r="1.5" fill="#7d95dc"/></g><g transform="translate(951.8,498.3)"><circle r="16.5" fill="#2e4aa6" stroke="#1f2f86" stroke-width="2"/><circle cx="2.5" cy="-2" r="11.9" fill="#4f6cc4"/><circle cx="3.5" cy="-3" r="7.9" fill="#3a58b4"/><circle cx="0" cy="-6" r="1.5" fill="#7d95dc"/><circle cx="4" cy="-7" r="1.5" fill="#7d95dc"/><circle cx="1" cy="-2" r="1.5" fill="#7d95dc"/><circle cx="6" cy="-3" r="1.5" fill="#7d95dc"/><circle cx="3" cy="1" r="1.5" fill="#7d95dc"/></g><path d="M985.4,400.8C987.6,397.1 989.8,394 996.4,392C1003,390 1014.7,389.1 1025,388.7C1035.3,388.3 1049.6,388.1 1058,389.8C1066.4,391.5 1070.8,397.9 1075.6,398.6C1080.4,399.3 1083.3,397.9 1086.6,394.2C1089.9,390.5 1091,379.9 1095.4,376.6C1099.8,373.3 1107.5,373.3 1113,374.4C1118.5,375.5 1125.2,376.6 1128.5,383.2C1131.8,389.8 1131.4,401.5 1132.9,414C1134.4,426.5 1135.5,444.1 1137.3,458C1139.1,471.9 1142.8,486.6 1143.9,497.6C1145,508.6 1145.7,517.4 1143.9,524C1142.1,530.6 1138.1,534.7 1132.9,537.3C1127.8,539.9 1120,541 1113,539.5C1106,538 1097.2,531.7 1091,528.4C1084.8,525.1 1082.9,521.4 1075.6,519.6C1068.3,517.8 1057.3,518.5 1047,517.4C1036.7,516.3 1022.1,515.6 1014,513C1005.9,510.4 1002.3,507.5 998.6,502C994.9,496.5 992,487.3 992,480C992,472.7 998.6,465.3 998.6,458C998.6,450.7 994.6,443.3 992,436C989.4,428.7 984.3,419.9 983.2,414C982.1,408.1 983.2,404.5 985.4,400.8Z" fill="#e6e3f1"/><path d="M1004,407.1L1004.5,406.7L1005,406.2L1005.5,405.6L1006,405L1006.5,404.2L1007,403.3L1007.6,402.5L1008.5,402.8L1009.4,402.9L1010.3,403L1011.1,403L1011.8,403L1012.6,402.9L1013.4,402.8L1014.1,402.7L1014.9,402.4L1015.7,402.1L1016.4,403L1017.1,403.5L1017.8,403.9L1018.6,404.1L1019.3,404.2L1020.1,404.2L1020.9,404.1L1021.8,403.9L1022.8,403.5L1023.7,403.3L1024.2,404.2L1024.8,404.8L1025.3,405.4L1025.7,406L1026.2,406.6L1026.5,407.2L1026.9,407.9L1027.4,408.5L1027.9,409.2L1028.3,409.9L1027.7,410.8L1027.4,411.7L1027.2,412.4L1027.1,413.2L1027.2,414L1027.4,414.7L1027.8,415.5L1028.2,416.3L1028.9,417L1029.3,417.9L1028.7,418.6L1028.3,419.3L1027.9,420.1L1027.6,420.8L1027.4,421.6L1027.2,422.4L1027.1,423.2L1027.1,424L1027.2,424.9L1027.3,425.7L1026.4,426.4L1025.9,427.3L1025.6,428.3L1025.6,429.2L1025.7,430L1026,430.8L1026.5,431.5L1027.1,432.2L1028,432.8L1028.6,433.4L1028.4,434.3L1028.4,435.2L1028.5,435.9L1028.7,436.7L1028.9,437.5L1029.1,438.2L1029.3,438.9L1029.3,439.7L1029.4,440.6L1028.9,441.4L1027.8,441.4L1026.9,441.4L1026.2,441.4L1025.5,441.4L1024.9,441.5L1024.5,441.6L1023.9,441.8L1023.4,442.1L1022.5,442.2L1021.7,441.9L1021.5,441.1L1021.2,440.3L1020.8,439.7L1020.4,439L1019.9,438.4L1019.3,437.8L1018.8,437.2L1018.1,436.7L1017.3,436.2L1016.9,435.5L1017.1,434.5L1017.1,433.5L1017,432.6L1016.8,431.8L1016.5,431.1L1016.1,430.4L1015.5,429.8L1014.9,429.3L1014,428.9L1013.4,428.3L1013.4,427.4L1013.1,426.6L1012.8,425.8L1012.3,425.2L1011.8,424.6L1011.2,424L1010.5,423.4L1009.8,422.9L1008.9,422.5L1008.5,421.9L1008.6,420.8L1008.5,419.9L1008.2,419L1007.9,418.2L1007.4,417.5L1006.8,416.9L1006.1,416.4L1005.4,416.1L1004.5,415.9L1003.9,415.4L1003.8,414.5L1003.7,413.9L1003.5,413.2L1003.2,412.6L1002.9,411.9L1002.5,411.2L1002.1,410.5L1001.6,409.7L1001.1,408.8L1001.3,408L1002.1,407.3L1002.9,406.9Z" fill="#fff" stroke="#fff" stroke-width="5" stroke-linejoin="round" opacity="0.6"/><path d="M1004,407.1L1004.5,406.7L1005,406.2L1005.5,405.6L1006,405L1006.5,404.2L1007,403.3L1007.6,402.5L1008.5,402.8L1009.4,402.9L1010.3,403L1011.1,403L1011.8,403L1012.6,402.9L1013.4,402.8L1014.1,402.7L1014.9,402.4L1015.7,402.1L1016.4,403L1017.1,403.5L1017.8,403.9L1018.6,404.1L1019.3,404.2L1020.1,404.2L1020.9,404.1L1021.8,403.9L1022.8,403.5L1023.7,403.3L1024.2,404.2L1024.8,404.8L1025.3,405.4L1025.7,406L1026.2,406.6L1026.5,407.2L1026.9,407.9L1027.4,408.5L1027.9,409.2L1028.3,409.9L1027.7,410.8L1027.4,411.7L1027.2,412.4L1027.1,413.2L1027.2,414L1027.4,414.7L1027.8,415.5L1028.2,416.3L1028.9,417L1029.3,417.9L1028.7,418.6L1028.3,419.3L1027.9,420.1L1027.6,420.8L1027.4,421.6L1027.2,422.4L1027.1,423.2L1027.1,424L1027.2,424.9L1027.3,425.7L1026.4,426.4L1025.9,427.3L1025.6,428.3L1025.6,429.2L1025.7,430L1026,430.8L1026.5,431.5L1027.1,432.2L1028,432.8L1028.6,433.4L1028.4,434.3L1028.4,435.2L1028.5,435.9L1028.7,436.7L1028.9,437.5L1029.1,438.2L1029.3,438.9L1029.3,439.7L1029.4,440.6L1028.9,441.4L1027.8,441.4L1026.9,441.4L1026.2,441.4L1025.5,441.4L1024.9,441.5L1024.5,441.6L1023.9,441.8L1023.4,442.1L1022.5,442.2L1021.7,441.9L1021.5,441.1L1021.2,440.3L1020.8,439.7L1020.4,439L1019.9,438.4L1019.3,437.8L1018.8,437.2L1018.1,436.7L1017.3,436.2L1016.9,435.5L1017.1,434.5L1017.1,433.5L1017,432.6L1016.8,431.8L1016.5,431.1L1016.1,430.4L1015.5,429.8L1014.9,429.3L1014,428.9L1013.4,428.3L1013.4,427.4L1013.1,426.6L1012.8,425.8L1012.3,425.2L1011.8,424.6L1011.2,424L1010.5,423.4L1009.8,422.9L1008.9,422.5L1008.5,421.9L1008.6,420.8L1008.5,419.9L1008.2,419L1007.9,418.2L1007.4,417.5L1006.8,416.9L1006.1,416.4L1005.4,416.1L1004.5,415.9L1003.9,415.4L1003.8,414.5L1003.7,413.9L1003.5,413.2L1003.2,412.6L1002.9,411.9L1002.5,411.2L1002.1,410.5L1001.6,409.7L1001.1,408.8L1001.3,408L1002.1,407.3L1002.9,406.9Z" fill="#eda184" stroke="#b8644a" stroke-width="1.9" stroke-linejoin="round"/><circle cx="1013" cy="410" r="3" fill="#d58364" opacity="0.75"/><circle cx="1020" cy="428" r="2.5" fill="#d58364" opacity="0.75"/><circle cx="1024" cy="438" r="2" fill="#d58364" opacity="0.75"/><path d="M1043.1,417.7L1043.4,416.9L1043.6,416.1L1043.9,415.1L1044.4,414.5L1045.5,414.5L1046.4,414.4L1047.3,414.2L1048.1,414L1048.8,413.7L1049.5,413.4L1050.1,412.9L1050.6,412.3L1051.1,411.5L1051.8,411L1052.7,411.1L1053.5,411L1054.2,410.7L1054.9,410.4L1055.6,409.9L1056.2,409.4L1056.9,408.8L1057.5,408.1L1058.1,407.3L1059,407.2L1059.9,407.6L1060.7,407.9L1061.6,408.2L1062.3,408.4L1063.1,408.6L1063.8,408.7L1064.6,408.7L1065.4,408.5L1066.2,408.2L1067,408.5L1067.6,409.1L1068.3,409.6L1068.9,409.9L1069.6,410.1L1070.4,410.3L1071.2,410.3L1072.1,410.4L1073,410.4L1074.1,410.4L1074.6,411.1L1074.8,412L1075,412.8L1075.3,413.6L1075.5,414.4L1075.8,415.1L1076.1,415.8L1076.6,416.4L1077.1,417.1L1077.9,417.6L1077.8,418.5L1077.5,419.4L1077.4,420.2L1077.5,420.9L1077.6,421.6L1077.9,422.3L1078.2,423L1078.7,423.8L1079.2,424.6L1080,425.4L1079.6,426.2L1079,427L1078.6,427.7L1078.2,428.5L1077.9,429.2L1077.6,429.9L1077.3,430.6L1077.1,431.3L1077,432.1L1077.1,433.1L1076.1,433.4L1075.2,433.6L1074.4,434L1073.8,434.4L1073.3,434.9L1072.8,435.5L1072.5,436.2L1072.1,436.9L1071.7,437.8L1071.2,439L1070.2,438.6L1069.5,438.2L1068.8,437.7L1068.1,437.3L1067.5,436.9L1066.8,436.5L1066.1,436.1L1065.3,435.8L1064.5,435.7L1063.4,435.9L1063.3,434.6L1062.9,433.7L1062.4,433L1061.9,432.4L1061.3,431.9L1060.6,431.6L1059.8,431.3L1058.9,431.2L1057.9,431.1L1056.7,431.1L1056.8,430.1L1056.6,429.2L1056.3,428.4L1055.5,427.7L1054.2,427.9L1053.5,428.6L1053.1,429.3L1052.7,430.1L1052.6,431L1052.5,431.9L1051.3,432.1L1050.4,432.4L1049.7,432.7L1049.1,433.1L1048.9,433.2L1048.6,433.4L1048.2,433.6L1047.6,433.8L1046.7,434.1L1045.7,434.3L1045.2,433.5L1044.7,432.8L1044.2,432.3L1043.6,431.8L1043.1,431.2L1042.5,430.7L1042,430.2L1041.4,429.6L1040.8,428.9L1040.3,428.2L1040.9,427.2L1041.4,426.4L1041.7,425.6L1041.9,424.9L1042.1,424.2L1042.1,423.4L1042,422.7L1041.7,421.9L1041.3,421L1041.2,420.2L1041.9,419.6L1042.4,419L1042.8,418.4Z" fill="#fff" stroke="#fff" stroke-width="5" stroke-linejoin="round" opacity="0.6"/><path d="M1043.1,417.7L1043.4,416.9L1043.6,416.1L1043.9,415.1L1044.4,414.5L1045.5,414.5L1046.4,414.4L1047.3,414.2L1048.1,414L1048.8,413.7L1049.5,413.4L1050.1,412.9L1050.6,412.3L1051.1,411.5L1051.8,411L1052.7,411.1L1053.5,411L1054.2,410.7L1054.9,410.4L1055.6,409.9L1056.2,409.4L1056.9,408.8L1057.5,408.1L1058.1,407.3L1059,407.2L1059.9,407.6L1060.7,407.9L1061.6,408.2L1062.3,408.4L1063.1,408.6L1063.8,408.7L1064.6,408.7L1065.4,408.5L1066.2,408.2L1067,408.5L1067.6,409.1L1068.3,409.6L1068.9,409.9L1069.6,410.1L1070.4,410.3L1071.2,410.3L1072.1,410.4L1073,410.4L1074.1,410.4L1074.6,411.1L1074.8,412L1075,412.8L1075.3,413.6L1075.5,414.4L1075.8,415.1L1076.1,415.8L1076.6,416.4L1077.1,417.1L1077.9,417.6L1077.8,418.5L1077.5,419.4L1077.4,420.2L1077.5,420.9L1077.6,421.6L1077.9,422.3L1078.2,423L1078.7,423.8L1079.2,424.6L1080,425.4L1079.6,426.2L1079,427L1078.6,427.7L1078.2,428.5L1077.9,429.2L1077.6,429.9L1077.3,430.6L1077.1,431.3L1077,432.1L1077.1,433.1L1076.1,433.4L1075.2,433.6L1074.4,434L1073.8,434.4L1073.3,434.9L1072.8,435.5L1072.5,436.2L1072.1,436.9L1071.7,437.8L1071.2,439L1070.2,438.6L1069.5,438.2L1068.8,437.7L1068.1,437.3L1067.5,436.9L1066.8,436.5L1066.1,436.1L1065.3,435.8L1064.5,435.7L1063.4,435.9L1063.3,434.6L1062.9,433.7L1062.4,433L1061.9,432.4L1061.3,431.9L1060.6,431.6L1059.8,431.3L1058.9,431.2L1057.9,431.1L1056.7,431.1L1056.8,430.1L1056.6,429.2L1056.3,428.4L1055.5,427.7L1054.2,427.9L1053.5,428.6L1053.1,429.3L1052.7,430.1L1052.6,431L1052.5,431.9L1051.3,432.1L1050.4,432.4L1049.7,432.7L1049.1,433.1L1048.9,433.2L1048.6,433.4L1048.2,433.6L1047.6,433.8L1046.7,434.1L1045.7,434.3L1045.2,433.5L1044.7,432.8L1044.2,432.3L1043.6,431.8L1043.1,431.2L1042.5,430.7L1042,430.2L1041.4,429.6L1040.8,428.9L1040.3,428.2L1040.9,427.2L1041.4,426.4L1041.7,425.6L1041.9,424.9L1042.1,424.2L1042.1,423.4L1042,422.7L1041.7,421.9L1041.3,421L1041.2,420.2L1041.9,419.6L1042.4,419L1042.8,418.4Z" fill="#ffffff" stroke="#1f2f5e" stroke-width="1.6" stroke-linejoin="round"/><path d="M1096.3,392.8L1096.6,392.3L1097,391.8L1097.4,391.2L1097.7,390.5L1098.2,389.8L1098.6,388.9L1099.2,388L1100.1,388.3L1101,388.5L1101.8,388.6L1102.6,388.7L1103.4,388.8L1104.1,388.9L1104.8,388.9L1105.6,389L1106.4,388.9L1107.2,388.9L1107.6,389.9L1108.1,390.7L1108.6,391.2L1109.1,391.7L1109.8,392.1L1110.5,392.4L1111.2,392.6L1112.1,392.8L1113.1,392.9L1114.1,393.1L1114.2,394.1L1114.4,394.9L1114.6,395.7L1114.9,396.5L1115.1,397.2L1115.3,397.9L1115.5,398.6L1115.6,399.3L1115.9,400.1L1116,400.9L1115.1,401.5L1114.4,402.1L1113.9,402.7L1113.5,403.3L1113.2,404L1113,404.7L1112.9,405.4L1112.9,406.2L1112.8,407.2L1112.5,408.2L1111.6,408.3L1110.8,408.5L1110.1,408.9L1109.4,409.3L1108.7,409.9L1108.2,410.6L1107.8,411.4L1107.7,412.3L1107.9,413.1L1108.1,413.9L1107.4,414.8L1107,415.8L1106.9,416.7L1107,417.6L1107.3,418.5L1107.8,419.2L1108.4,419.8L1109.1,420.4L1110.1,420.8L1111,421.1L1111.2,422L1111.6,422.8L1112.1,423.4L1112.7,424L1113.3,424.5L1113.9,425L1114.6,425.5L1115.3,425.9L1116.1,426.2L1116.7,426.8L1116.5,427.9L1116.4,428.8L1116.4,429.7L1116.5,430.5L1116.8,431.2L1117.1,431.9L1117.6,432.6L1118.2,433.1L1119,433.7L1119.6,434.3L1119.3,435.2L1119.3,436L1119.3,436.8L1119.3,437.4L1119.3,438.2L1119.3,439L1119.3,439.7L1119.2,440.6L1119.2,441.5L1118.9,442.3L1117.8,442.5L1116.9,442.7L1116.1,442.9L1115.4,443.2L1114.7,443.4L1114.3,443.6L1113.7,443.9L1113.1,444.4L1112.5,445L1111.7,445.3L1110.9,444.8L1110.2,444.5L1109.5,444.3L1108.7,444.2L1108,444.1L1107.3,444L1106.4,443.9L1105.6,443.8L1104.6,443.6L1103.9,443.1L1103.9,442L1103.8,441.1L1103.8,440.3L1103.7,439.5L1103.5,438.8L1103.2,438.1L1102.9,437.4L1102.4,436.8L1101.7,436.2L1101.2,435.5L1101.6,434.6L1101.7,433.8L1101.7,433.1L1101.5,432.3L1101.3,431.5L1101,430.8L1100.6,430L1100.2,429.2L1099.6,428.4L1099.4,427.6L1100,426.8L1100.5,426L1100.8,425.2L1101.1,424.4L1101.2,423.6L1101.3,422.8L1101.2,422L1101,421.2L1100.5,420.4L1100.4,419.6L1101,418.8L1101.3,418.1L1101.5,417.3L1101.5,416.5L1101.4,415.7L1101.1,414.8L1100.8,414L1100.3,413.2L1099.7,412.4L1099.5,411.6L1100,410.8L1100.3,410L1100.4,409L1100.3,408.1L1100.1,407.3L1099.7,406.5L1099.2,405.8L1098.6,405.2L1097.9,404.8L1097.4,404.1L1097.6,403.2L1097.6,402.4L1097.5,401.7L1097.3,401L1096.9,400.3L1096.5,399.6L1095.9,398.9L1095.3,398.3L1094.5,397.6L1094.1,396.8L1094.5,395.9L1094.8,395.1L1095,394.4L1095.3,393.6L1095.5,392.9Z" fill="#fff" stroke="#fff" stroke-width="5" stroke-linejoin="round" opacity="0.6"/><path d="M1096.3,392.8L1096.6,392.3L1097,391.8L1097.4,391.2L1097.7,390.5L1098.2,389.8L1098.6,388.9L1099.2,388L1100.1,388.3L1101,388.5L1101.8,388.6L1102.6,388.7L1103.4,388.8L1104.1,388.9L1104.8,388.9L1105.6,389L1106.4,388.9L1107.2,388.9L1107.6,389.9L1108.1,390.7L1108.6,391.2L1109.1,391.7L1109.8,392.1L1110.5,392.4L1111.2,392.6L1112.1,392.8L1113.1,392.9L1114.1,393.1L1114.2,394.1L1114.4,394.9L1114.6,395.7L1114.9,396.5L1115.1,397.2L1115.3,397.9L1115.5,398.6L1115.6,399.3L1115.9,400.1L1116,400.9L1115.1,401.5L1114.4,402.1L1113.9,402.7L1113.5,403.3L1113.2,404L1113,404.7L1112.9,405.4L1112.9,406.2L1112.8,407.2L1112.5,408.2L1111.6,408.3L1110.8,408.5L1110.1,408.9L1109.4,409.3L1108.7,409.9L1108.2,410.6L1107.8,411.4L1107.7,412.3L1107.9,413.1L1108.1,413.9L1107.4,414.8L1107,415.8L1106.9,416.7L1107,417.6L1107.3,418.5L1107.8,419.2L1108.4,419.8L1109.1,420.4L1110.1,420.8L1111,421.1L1111.2,422L1111.6,422.8L1112.1,423.4L1112.7,424L1113.3,424.5L1113.9,425L1114.6,425.5L1115.3,425.9L1116.1,426.2L1116.7,426.8L1116.5,427.9L1116.4,428.8L1116.4,429.7L1116.5,430.5L1116.8,431.2L1117.1,431.9L1117.6,432.6L1118.2,433.1L1119,433.7L1119.6,434.3L1119.3,435.2L1119.3,436L1119.3,436.8L1119.3,437.4L1119.3,438.2L1119.3,439L1119.3,439.7L1119.2,440.6L1119.2,441.5L1118.9,442.3L1117.8,442.5L1116.9,442.7L1116.1,442.9L1115.4,443.2L1114.7,443.4L1114.3,443.6L1113.7,443.9L1113.1,444.4L1112.5,445L1111.7,445.3L1110.9,444.8L1110.2,444.5L1109.5,444.3L1108.7,444.2L1108,444.1L1107.3,444L1106.4,443.9L1105.6,443.8L1104.6,443.6L1103.9,443.1L1103.9,442L1103.8,441.1L1103.8,440.3L1103.7,439.5L1103.5,438.8L1103.2,438.1L1102.9,437.4L1102.4,436.8L1101.7,436.2L1101.2,435.5L1101.6,434.6L1101.7,433.8L1101.7,433.1L1101.5,432.3L1101.3,431.5L1101,430.8L1100.6,430L1100.2,429.2L1099.6,428.4L1099.4,427.6L1100,426.8L1100.5,426L1100.8,425.2L1101.1,424.4L1101.2,423.6L1101.3,422.8L1101.2,422L1101,421.2L1100.5,420.4L1100.4,419.6L1101,418.8L1101.3,418.1L1101.5,417.3L1101.5,416.5L1101.4,415.7L1101.1,414.8L1100.8,414L1100.3,413.2L1099.7,412.4L1099.5,411.6L1100,410.8L1100.3,410L1100.4,409L1100.3,408.1L1100.1,407.3L1099.7,406.5L1099.2,405.8L1098.6,405.2L1097.9,404.8L1097.4,404.1L1097.6,403.2L1097.6,402.4L1097.5,401.7L1097.3,401L1096.9,400.3L1096.5,399.6L1095.9,398.9L1095.3,398.3L1094.5,397.6L1094.1,396.8L1094.5,395.9L1094.8,395.1L1095,394.4L1095.3,393.6L1095.5,392.9Z" fill="#eda184" stroke="#b8644a" stroke-width="1.9" stroke-linejoin="round"/><circle cx="1107" cy="398" r="3" fill="#d58364" opacity="0.75"/><circle cx="1112" cy="436" r="4" fill="#d58364" opacity="0.75"/><path d="M1004.3,482.7L1004.7,482.1L1005,481.4L1005.3,480.7L1005.5,479.9L1005.6,479L1005.7,478L1005.8,477L1006.8,476.8L1007.7,476.6L1008.5,476.3L1009.2,476L1009.9,475.9L1010.6,475.7L1011.2,475.6L1011.9,475.4L1012.7,475.2L1013.5,475.1L1014,476L1014.6,476.7L1015.2,477.2L1015.8,477.6L1016.4,477.9L1017.2,478.1L1017.9,478.2L1018.8,478.3L1019.8,478.4L1020.7,478.7L1020.8,479.7L1021.1,480.5L1021.4,481.3L1021.8,482L1022.2,482.7L1022.7,483.4L1023.2,484L1023.9,484.5L1024.7,484.9L1025.3,485.4L1025.4,486.5L1025.7,487.3L1026.1,488.1L1026.5,488.7L1026.8,489.1L1027.3,489.5L1027.7,489.9L1028.3,490.5L1029.1,491.2L1029.4,492L1029,492.8L1028.6,493.5L1028.4,494.3L1028.2,495L1028,495.8L1027.8,496.6L1027.7,497.3L1027.6,498.1L1027.6,499L1027.2,499.7L1026.2,500.1L1025.4,500.4L1024.7,500.8L1024.1,501.2L1023.6,501.7L1023.1,502.3L1022.7,503L1022.4,503.8L1022.2,504.8L1021.6,505.4L1020.7,505.4L1019.9,505.5L1019.2,505.6L1018.4,505.8L1017.7,506L1016.9,506.2L1016.2,506.5L1015.4,506.8L1014.6,507.2L1013.8,507.1L1013,506.3L1012.3,505.7L1011.7,505.2L1011.1,504.8L1010.7,504.5L1010.2,504.2L1009.5,504L1008.7,503.8L1007.7,503.7L1007.1,503.1L1007,502.2L1006.7,501.5L1006.3,500.8L1005.9,500.1L1005.5,499.5L1004.9,498.9L1004.4,498.3L1003.7,497.7L1003,497.1L1002.9,496.3L1003.3,495.3L1003.5,494.4L1003.7,493.6L1003.8,492.8L1003.8,492L1003.7,491.3L1003.4,490.5L1003,489.8L1002.3,489L1002.3,488.2L1002.7,487.4L1002.8,486.7L1002.9,485.9L1002.9,485.2L1002.9,484.4L1002.9,483.6L1002.9,482.8Z" fill="#fff" stroke="#fff" stroke-width="5" stroke-linejoin="round" opacity="0.6"/><path d="M1004.3,482.7L1004.7,482.1L1005,481.4L1005.3,480.7L1005.5,479.9L1005.6,479L1005.7,478L1005.8,477L1006.8,476.8L1007.7,476.6L1008.5,476.3L1009.2,476L1009.9,475.9L1010.6,475.7L1011.2,475.6L1011.9,475.4L1012.7,475.2L1013.5,475.1L1014,476L1014.6,476.7L1015.2,477.2L1015.8,477.6L1016.4,477.9L1017.2,478.1L1017.9,478.2L1018.8,478.3L1019.8,478.4L1020.7,478.7L1020.8,479.7L1021.1,480.5L1021.4,481.3L1021.8,482L1022.2,482.7L1022.7,483.4L1023.2,484L1023.9,484.5L1024.7,484.9L1025.3,485.4L1025.4,486.5L1025.7,487.3L1026.1,488.1L1026.5,488.7L1026.8,489.1L1027.3,489.5L1027.7,489.9L1028.3,490.5L1029.1,491.2L1029.4,492L1029,492.8L1028.6,493.5L1028.4,494.3L1028.2,495L1028,495.8L1027.8,496.6L1027.7,497.3L1027.6,498.1L1027.6,499L1027.2,499.7L1026.2,500.1L1025.4,500.4L1024.7,500.8L1024.1,501.2L1023.6,501.7L1023.1,502.3L1022.7,503L1022.4,503.8L1022.2,504.8L1021.6,505.4L1020.7,505.4L1019.9,505.5L1019.2,505.6L1018.4,505.8L1017.7,506L1016.9,506.2L1016.2,506.5L1015.4,506.8L1014.6,507.2L1013.8,507.1L1013,506.3L1012.3,505.7L1011.7,505.2L1011.1,504.8L1010.7,504.5L1010.2,504.2L1009.5,504L1008.7,503.8L1007.7,503.7L1007.1,503.1L1007,502.2L1006.7,501.5L1006.3,500.8L1005.9,500.1L1005.5,499.5L1004.9,498.9L1004.4,498.3L1003.7,497.7L1003,497.1L1002.9,496.3L1003.3,495.3L1003.5,494.4L1003.7,493.6L1003.8,492.8L1003.8,492L1003.7,491.3L1003.4,490.5L1003,489.8L1002.3,489L1002.3,488.2L1002.7,487.4L1002.8,486.7L1002.9,485.9L1002.9,485.2L1002.9,484.4L1002.9,483.6L1002.9,482.8Z" fill="#4b6cc0" stroke="#23408e" stroke-width="1.9" stroke-linejoin="round"/><circle cx="1012" cy="484" r="3" fill="#3558ad" opacity="0.75"/><circle cx="1018" cy="498" r="3" fill="#3558ad" opacity="0.75"/><path d="M1043.5,495.9L1043.5,495.3L1043.4,494.6L1043.3,493.8L1043.1,492.9L1042.8,492.1L1042.4,491.2L1042.1,490.2L1042.9,489.6L1043.5,489L1044.1,488.4L1044.6,487.7L1045.1,487.1L1045.5,486.4L1045.8,485.8L1046.1,485L1046.3,484.2L1046.6,483.4L1047.7,483.3L1048.5,483L1049.2,482.6L1049.8,482.2L1050.3,481.6L1050.7,481L1051.1,480.2L1051.4,479.3L1051.7,478.3L1052.1,477.5L1053.1,477.5L1053.9,477.3L1054.7,477.1L1055.5,476.9L1056.2,476.6L1057,476.3L1057.7,476L1058.3,475.5L1059,475L1059.8,474.7L1060.7,475.2L1061.5,475.5L1062.3,475.7L1063.1,475.7L1063.9,475.6L1064.6,475.3L1065.3,475L1066.1,474.5L1066.9,473.8L1067.7,473.7L1068.4,474.2L1069.2,474.7L1069.9,475L1070.6,475.4L1071.2,475.7L1072,476L1072.7,476.3L1073.4,476.6L1074.3,476.8L1074.8,477.4L1074.9,478.5L1075.1,479.4L1075.3,480.1L1075.5,480.8L1075.8,481.4L1076.2,481.9L1076.8,482.5L1077.4,483L1078.3,483.6L1078.6,484.4L1078.4,485.2L1078.3,486L1078.3,486.8L1078.4,487.6L1078.5,488.4L1078.6,489.2L1078.8,490L1079.1,490.8L1079.5,491.6L1079.1,492.4L1078.3,493.1L1077.7,493.8L1077.2,494.4L1076.8,495.1L1076.5,495.8L1076.4,496.5L1076.3,497.3L1076.4,498.2L1076.7,499.2L1076.3,499.9L1075.6,500.3L1075,500.9L1074.5,501.4L1074,501.9L1073.5,502.4L1072.9,502.9L1072.3,503.5L1071.7,504.1L1071,504.8L1070.1,504.5L1069.3,503.9L1068.5,503.4L1067.9,502.9L1067.5,502.6L1067.1,502.3L1066.6,501.9L1066.1,501.6L1065.3,501.2L1064.3,501L1064.1,500.1L1063.9,499.3L1063.6,498.5L1063.1,497.8L1062.5,497.2L1061.7,496.7L1060.9,496.4L1060,496.2L1059.1,496.2L1058.2,496.6L1057.6,495.8L1056.9,495.2L1055.9,494.9L1054.9,494.9L1053.9,495.2L1053.1,495.8L1052.4,496.6L1052.1,497.3L1051.9,498.2L1052.1,499.4L1051.2,499.7L1050.5,500.2L1049.9,500.8L1049.5,501.4L1049.1,502L1048.8,502.7L1048.4,503.3L1048,503.8L1047.1,504.1L1045.8,504.3L1045.6,503.1L1045.4,502.2L1045.2,501.4L1045,500.6L1044.7,499.9L1044.4,499.2L1044.1,498.5L1043.6,497.9L1043.1,497.3L1042,496.8Z" fill="#fff" stroke="#fff" stroke-width="5" stroke-linejoin="round" opacity="0.6"/><path d="M1043.5,495.9L1043.5,495.3L1043.4,494.6L1043.3,493.8L1043.1,492.9L1042.8,492.1L1042.4,491.2L1042.1,490.2L1042.9,489.6L1043.5,489L1044.1,488.4L1044.6,487.7L1045.1,487.1L1045.5,486.4L1045.8,485.8L1046.1,485L1046.3,484.2L1046.6,483.4L1047.7,483.3L1048.5,483L1049.2,482.6L1049.8,482.2L1050.3,481.6L1050.7,481L1051.1,480.2L1051.4,479.3L1051.7,478.3L1052.1,477.5L1053.1,477.5L1053.9,477.3L1054.7,477.1L1055.5,476.9L1056.2,476.6L1057,476.3L1057.7,476L1058.3,475.5L1059,475L1059.8,474.7L1060.7,475.2L1061.5,475.5L1062.3,475.7L1063.1,475.7L1063.9,475.6L1064.6,475.3L1065.3,475L1066.1,474.5L1066.9,473.8L1067.7,473.7L1068.4,474.2L1069.2,474.7L1069.9,475L1070.6,475.4L1071.2,475.7L1072,476L1072.7,476.3L1073.4,476.6L1074.3,476.8L1074.8,477.4L1074.9,478.5L1075.1,479.4L1075.3,480.1L1075.5,480.8L1075.8,481.4L1076.2,481.9L1076.8,482.5L1077.4,483L1078.3,483.6L1078.6,484.4L1078.4,485.2L1078.3,486L1078.3,486.8L1078.4,487.6L1078.5,488.4L1078.6,489.2L1078.8,490L1079.1,490.8L1079.5,491.6L1079.1,492.4L1078.3,493.1L1077.7,493.8L1077.2,494.4L1076.8,495.1L1076.5,495.8L1076.4,496.5L1076.3,497.3L1076.4,498.2L1076.7,499.2L1076.3,499.9L1075.6,500.3L1075,500.9L1074.5,501.4L1074,501.9L1073.5,502.4L1072.9,502.9L1072.3,503.5L1071.7,504.1L1071,504.8L1070.1,504.5L1069.3,503.9L1068.5,503.4L1067.9,502.9L1067.5,502.6L1067.1,502.3L1066.6,501.9L1066.1,501.6L1065.3,501.2L1064.3,501L1064.1,500.1L1063.9,499.3L1063.6,498.5L1063.1,497.8L1062.5,497.2L1061.7,496.7L1060.9,496.4L1060,496.2L1059.1,496.2L1058.2,496.6L1057.6,495.8L1056.9,495.2L1055.9,494.9L1054.9,494.9L1053.9,495.2L1053.1,495.8L1052.4,496.6L1052.1,497.3L1051.9,498.2L1052.1,499.4L1051.2,499.7L1050.5,500.2L1049.9,500.8L1049.5,501.4L1049.1,502L1048.8,502.7L1048.4,503.3L1048,503.8L1047.1,504.1L1045.8,504.3L1045.6,503.1L1045.4,502.2L1045.2,501.4L1045,500.6L1044.7,499.9L1044.4,499.2L1044.1,498.5L1043.6,497.9L1043.1,497.3L1042,496.8Z" fill="#9478cc" stroke="#56409a" stroke-width="1.9" stroke-linejoin="round"/><circle cx="1055" cy="488" r="3" fill="#7a5db6" opacity="0.75"/><circle cx="1067" cy="486" r="3" fill="#7a5db6" opacity="0.75"/><path d="M1095.3,460L1096.1,459.8L1097.1,460.1L1098,460.2L1098.8,460.3L1099.6,460.3L1100.3,460.1L1101,459.8L1101.7,459.4L1102.4,458.8L1103,458L1103.8,457.9L1104.6,458.2L1105.4,458.4L1106.1,458.6L1106.8,458.8L1107.6,458.9L1108.4,459.1L1109.2,459.2L1110,459.3L1110.9,459.3L1111.5,460L1111.7,461L1112,461.9L1112.3,462.7L1112.6,463.3L1112.9,463.9L1113.3,464.4L1113.9,464.9L1114.5,465.4L1115.4,465.9L1115.6,466.6L1115.4,467.5L1115.4,468.3L1115.4,469L1115.6,469.8L1115.8,470.6L1116,471.4L1116.3,472.1L1116.7,472.9L1117.2,473.7L1116.8,474.6L1116.2,475.3L1115.7,476.1L1115.3,476.9L1115,477.7L1114.9,478.5L1114.9,479.3L1115,480L1115.3,480.9L1115.8,481.7L1115.4,482.4L1114.9,483.1L1114.5,483.8L1114.2,484.5L1114.1,485.3L1114,486.1L1114,487L1114,487.8L1114.1,488.7L1114.5,489.7L1113.9,490.3L1113.1,490.9L1112.5,491.7L1112.1,492.5L1111.8,493.4L1111.6,494.3L1111.7,495.1L1112,495.9L1112.4,496.7L1113.2,497.4L1113.1,498.3L1112.9,499.1L1112.9,500L1113.1,500.8L1113.4,501.5L1113.8,502.2L1114.3,502.9L1114.8,503.6L1115.3,504.3L1116.1,505.1L1115.6,506L1115.1,506.7L1114.6,507.5L1114.1,508.2L1113.7,508.9L1113.4,509.6L1113.2,510.3L1113.1,511.1L1113.1,511.9L1113.4,512.9L1112.6,513.4L1111.9,513.9L1111.3,514.4L1110.9,515L1110.6,515.6L1110.3,516.3L1110,517L1109.7,517.8L1109.3,518.7L1109,519.8L1107.9,519.6L1107,519.5L1106.2,519.4L1105.4,519.2L1104.6,519.1L1103.9,519L1103.2,519L1102.7,518.9L1102.2,519L1101.3,518.6L1101.8,517.6L1102.1,516.8L1102.3,516.1L1102.3,515.3L1102.2,514.5L1102,513.7L1101.6,512.9L1101,512.1L1100.2,511.5L1099.2,511.5L1099,510.7L1098.3,510.2L1097.4,510L1096.6,510L1095.8,510L1095,510.1L1094.3,510.2L1093.7,510.2L1092.9,510.2L1091.9,510.6L1091.6,509.4L1091.2,508.6L1090.7,508L1090.1,507.4L1089.5,507L1088.9,506.7L1088.2,506.4L1087.4,506.2L1086.5,506L1085.1,505.8L1085.5,504.6L1085.6,503.8L1085.6,503L1085.6,502.2L1085.7,501.5L1085.8,500.8L1086,500.1L1086.2,499.6L1086.6,498.9L1087,497.9L1088.2,498.4L1089.1,498.6L1090,498.5L1090.8,498.3L1091.6,497.9L1092.4,497.3L1092.9,496.4L1093.2,495.5L1093.3,494.5L1093.1,493.3L1094.1,493L1094.7,492.4L1095.2,491.7L1095.5,491L1095.8,490.1L1095.9,489.3L1095.9,488.5L1095.7,487.6L1095.5,486.8L1095,486L1095.9,485.2L1096.4,484.4L1096.7,483.5L1096.8,482.7L1096.9,481.8L1096.7,481L1096.4,480.3L1095.9,479.5L1095.2,478.8L1094.4,478.1L1094.8,477.2L1094.9,476.4L1094.9,475.6L1094.8,474.8L1094.6,473.9L1094.3,473.2L1093.9,472.4L1093.4,471.7L1092.8,471.1L1092.2,470.5L1092.7,469.4L1093.1,468.5L1093.4,467.7L1093.6,467.2L1093.8,466.5L1093.8,465.8L1093.8,465.1L1093.7,464.3L1093.4,463.4L1093.2,462.5L1094.1,462.1L1094.7,461.7L1095.3,461.3Z" fill="#fff" stroke="#fff" stroke-width="5" stroke-linejoin="round" opacity="0.6"/><path d="M1095.3,460L1096.1,459.8L1097.1,460.1L1098,460.2L1098.8,460.3L1099.6,460.3L1100.3,460.1L1101,459.8L1101.7,459.4L1102.4,458.8L1103,458L1103.8,457.9L1104.6,458.2L1105.4,458.4L1106.1,458.6L1106.8,458.8L1107.6,458.9L1108.4,459.1L1109.2,459.2L1110,459.3L1110.9,459.3L1111.5,460L1111.7,461L1112,461.9L1112.3,462.7L1112.6,463.3L1112.9,463.9L1113.3,464.4L1113.9,464.9L1114.5,465.4L1115.4,465.9L1115.6,466.6L1115.4,467.5L1115.4,468.3L1115.4,469L1115.6,469.8L1115.8,470.6L1116,471.4L1116.3,472.1L1116.7,472.9L1117.2,473.7L1116.8,474.6L1116.2,475.3L1115.7,476.1L1115.3,476.9L1115,477.7L1114.9,478.5L1114.9,479.3L1115,480L1115.3,480.9L1115.8,481.7L1115.4,482.4L1114.9,483.1L1114.5,483.8L1114.2,484.5L1114.1,485.3L1114,486.1L1114,487L1114,487.8L1114.1,488.7L1114.5,489.7L1113.9,490.3L1113.1,490.9L1112.5,491.7L1112.1,492.5L1111.8,493.4L1111.6,494.3L1111.7,495.1L1112,495.9L1112.4,496.7L1113.2,497.4L1113.1,498.3L1112.9,499.1L1112.9,500L1113.1,500.8L1113.4,501.5L1113.8,502.2L1114.3,502.9L1114.8,503.6L1115.3,504.3L1116.1,505.1L1115.6,506L1115.1,506.7L1114.6,507.5L1114.1,508.2L1113.7,508.9L1113.4,509.6L1113.2,510.3L1113.1,511.1L1113.1,511.9L1113.4,512.9L1112.6,513.4L1111.9,513.9L1111.3,514.4L1110.9,515L1110.6,515.6L1110.3,516.3L1110,517L1109.7,517.8L1109.3,518.7L1109,519.8L1107.9,519.6L1107,519.5L1106.2,519.4L1105.4,519.2L1104.6,519.1L1103.9,519L1103.2,519L1102.7,518.9L1102.2,519L1101.3,518.6L1101.8,517.6L1102.1,516.8L1102.3,516.1L1102.3,515.3L1102.2,514.5L1102,513.7L1101.6,512.9L1101,512.1L1100.2,511.5L1099.2,511.5L1099,510.7L1098.3,510.2L1097.4,510L1096.6,510L1095.8,510L1095,510.1L1094.3,510.2L1093.7,510.2L1092.9,510.2L1091.9,510.6L1091.6,509.4L1091.2,508.6L1090.7,508L1090.1,507.4L1089.5,507L1088.9,506.7L1088.2,506.4L1087.4,506.2L1086.5,506L1085.1,505.8L1085.5,504.6L1085.6,503.8L1085.6,503L1085.6,502.2L1085.7,501.5L1085.8,500.8L1086,500.1L1086.2,499.6L1086.6,498.9L1087,497.9L1088.2,498.4L1089.1,498.6L1090,498.5L1090.8,498.3L1091.6,497.9L1092.4,497.3L1092.9,496.4L1093.2,495.5L1093.3,494.5L1093.1,493.3L1094.1,493L1094.7,492.4L1095.2,491.7L1095.5,491L1095.8,490.1L1095.9,489.3L1095.9,488.5L1095.7,487.6L1095.5,486.8L1095,486L1095.9,485.2L1096.4,484.4L1096.7,483.5L1096.8,482.7L1096.9,481.8L1096.7,481L1096.4,480.3L1095.9,479.5L1095.2,478.8L1094.4,478.1L1094.8,477.2L1094.9,476.4L1094.9,475.6L1094.8,474.8L1094.6,473.9L1094.3,473.2L1093.9,472.4L1093.4,471.7L1092.8,471.1L1092.2,470.5L1092.7,469.4L1093.1,468.5L1093.4,467.7L1093.6,467.2L1093.8,466.5L1093.8,465.8L1093.8,465.1L1093.7,464.3L1093.4,463.4L1093.2,462.5L1094.1,462.1L1094.7,461.7L1095.3,461.3Z" fill="#4b6cc0" stroke="#23408e" stroke-width="1.9" stroke-linejoin="round"/><circle cx="1100" cy="468" r="3" fill="#3558ad" opacity="0.75"/><circle cx="1108" cy="485" r="2.5" fill="#3558ad" opacity="0.75"/><circle cx="1104" cy="505" r="3" fill="#3558ad" opacity="0.75"/><circle cx="1096" cy="503" r="2" fill="#3558ad" opacity="0.75"/><line x1="-8.5" y1="559.5" x2="1168" y2="559.5" stroke="#676fa3" stroke-width="4" stroke-dasharray="9.4 9.1"/><path d="M246,818 L1169.5,680.5 L1169.5,818Z" fill="url(#bg)"/><line x1="1169" y1="681" x2="1169" y2="818" stroke="#3d5390" stroke-width="1.2"/><line x1="246" y1="818" x2="1169.5" y2="680.5" stroke="url(#edgeg)" stroke-width="1"/><ellipse cx="1050" cy="705" rx="80" ry="26" fill="url(#wglow)" opacity="0.5"/><path transform="translate(275.2,635.5) rotate(84.3)" d="M-14.4,-6.8L-14.4,-11.2M-14.4,6.8L-14.4,11.2M-10.3,-6.8L-10.3,-11.2M-10.3,6.8L-10.3,11.2M-6.2,-6.8L-6.2,-11.2M-6.2,6.8L-6.2,11.2M-2.1,-6.8L-2.1,-11.2M-2.1,6.8L-2.1,11.2M2.1,-6.8L2.1,-11.2M2.1,6.8L2.1,11.2M6.2,-6.8L6.2,-11.2M6.2,6.8L6.2,11.2M10.3,-6.8L10.3,-11.2M10.3,6.8L10.3,11.2M14.4,-6.8L14.4,-11.2M14.4,6.8L14.4,11.2M17.7,-5.8L20,-9.7M20.2,-3.4L24.1,-5.6M21.1,0L25.6,0M20.2,3.4L24.1,5.6M17.7,5.8L20,9.7M-17.7,-5.8L-20,-9.7M-20.2,-3.4L-24.1,-5.6M-21.1,0L-25.6,0M-20.2,3.4L-24.1,5.6M-17.7,5.8L-20,9.7" stroke="#6a1c0c" stroke-width="1.8" stroke-linecap="round"/><rect transform="translate(275.2,635.5) rotate(84.3)" x="-22.1" y="-7.8" width="44.2" height="15.5" rx="7.8" fill="#6a1c0c"/><g transform="translate(275.2,635.5) rotate(84.3)"><rect x="-20.4" y="-6" width="40.8" height="12.1" rx="6" fill="#ef8c5f"/><rect x="-18.6" y="-4.8" width="29.6" height="9.7" rx="4.8" fill="#cd6a44"/><rect x="-15.6" y="-2.7" width="7.1" height="2.5" rx="1.2" fill="#f4a882"/><rect x="-7.3" y="0.7" width="7.1" height="2.5" rx="1.2" fill="#f4a882"/><rect x="1.6" y="-3.4" width="7.1" height="2.5" rx="1.2" fill="#f4a882"/></g><path transform="translate(315.1,634.7) rotate(126.1)" d="M-14,-6.8L-14,-11.2M-14,6.8L-14,11.2M-10,-6.8L-10,-11.2M-10,6.8L-10,11.2M-6,-6.8L-6,-11.2M-6,6.8L-6,11.2M-2,-6.8L-2,-11.2M-2,6.8L-2,11.2M2,-6.8L2,-11.2M2,6.8L2,11.2M6,-6.8L6,-11.2M6,6.8L6,11.2M10,-6.8L10,-11.2M10,6.8L10,11.2M14,-6.8L14,-11.2M14,6.8L14,11.2M17.4,-5.8L19.7,-9.7M19.9,-3.4L23.8,-5.6M20.8,0L25.3,0M19.9,3.4L23.8,5.6M17.4,5.8L19.7,9.7M-17.4,-5.8L-19.7,-9.7M-19.9,-3.4L-23.8,-5.6M-20.8,0L-25.3,0M-19.9,3.4L-23.8,5.6M-17.4,5.8L-19.7,9.7" stroke="#6a1c0c" stroke-width="1.8" stroke-linecap="round"/><rect transform="translate(315.1,634.7) rotate(126.1)" x="-21.8" y="-7.8" width="43.6" height="15.5" rx="7.8" fill="#6a1c0c"/><g transform="translate(315.1,634.7) rotate(126.1)"><rect x="-20.1" y="-6" width="40.2" height="12.1" rx="6" fill="#ef8c5f"/><rect x="-18.3" y="-4.8" width="29.2" height="9.7" rx="4.8" fill="#cd6a44"/><rect x="-15.4" y="-2.7" width="7" height="2.5" rx="1.2" fill="#f4a882"/><rect x="-7.2" y="0.7" width="7" height="2.5" rx="1.2" fill="#f4a882"/><rect x="1.6" y="-3.4" width="7" height="2.5" rx="1.2" fill="#f4a882"/></g><path transform="translate(308.6,677.3) rotate(-11.5)" d="M-14.3,-6.8L-14.3,-11.2M-14.3,6.8L-14.3,11.2M-10.2,-6.8L-10.2,-11.2M-10.2,6.8L-10.2,11.2M-6.1,-6.8L-6.1,-11.2M-6.1,6.8L-6.1,11.2M-2,-6.8L-2,-11.2M-2,6.8L-2,11.2M2,-6.8L2,-11.2M2,6.8L2,11.2M6.1,-6.8L6.1,-11.2M6.1,6.8L6.1,11.2M10.2,-6.8L10.2,-11.2M10.2,6.8L10.2,11.2M14.3,-6.8L14.3,-11.2M14.3,6.8L14.3,11.2M17.7,-5.8L19.9,-9.7M20.1,-3.4L24,-5.6M21,0L25.5,0M20.1,3.4L24,5.6M17.7,5.8L19.9,9.7M-17.7,-5.8L-19.9,-9.7M-20.1,-3.4L-24,-5.6M-21,0L-25.5,0M-20.1,3.4L-24,5.6M-17.7,5.8L-19.9,9.7" stroke="#6a1c0c" stroke-width="1.8" stroke-linecap="round"/><rect transform="translate(308.6,677.3) rotate(-11.5)" x="-22" y="-7.8" width="44.1" height="15.5" rx="7.8" fill="#6a1c0c"/><g transform="translate(308.6,677.3) rotate(-11.5)"><rect x="-20.3" y="-6" width="40.7" height="12.1" rx="6" fill="#ef8c5f"/><rect x="-18.5" y="-4.8" width="29.5" height="9.7" rx="4.8" fill="#cd6a44"/><rect x="-15.5" y="-2.7" width="7.1" height="2.5" rx="1.2" fill="#f4a882"/><rect x="-7.3" y="0.7" width="7.1" height="2.5" rx="1.2" fill="#f4a882"/><rect x="1.6" y="-3.4" width="7.1" height="2.5" rx="1.2" fill="#f4a882"/></g><path transform="translate(931.6,640.3) rotate(32.3)" d="M-15.5,-6.8L-15.5,-11.2M-15.5,6.8L-15.5,11.2M-11.6,-6.8L-11.6,-11.2M-11.6,6.8L-11.6,11.2M-7.7,-6.8L-7.7,-11.2M-7.7,6.8L-7.7,11.2M-3.9,-6.8L-3.9,-11.2M-3.9,6.8L-3.9,11.2M0,-6.8L0,-11.2M0,6.8L0,11.2M3.9,-6.8L3.9,-11.2M3.9,6.8L3.9,11.2M7.7,-6.8L7.7,-11.2M7.7,6.8L7.7,11.2M11.6,-6.8L11.6,-11.2M11.6,6.8L11.6,11.2M15.5,-6.8L15.5,-11.2M15.5,6.8L15.5,11.2M18.9,-5.8L21.1,-9.7M21.3,-3.4L25.2,-5.6M22.2,0L26.7,0M21.3,3.4L25.2,5.6M18.9,5.8L21.1,9.7M-18.9,-5.8L-21.1,-9.7M-21.3,-3.4L-25.2,-5.6M-22.2,0L-26.7,0M-21.3,3.4L-25.2,5.6M-18.9,5.8L-21.1,9.7" stroke="#6a1c0c" stroke-width="1.8" stroke-linecap="round"/><rect transform="translate(931.6,640.3) rotate(32.3)" x="-23.2" y="-7.8" width="46.5" height="15.5" rx="7.8" fill="#6a1c0c"/><g transform="translate(931.6,640.3) rotate(32.3)"><rect x="-21.5" y="-6" width="43.1" height="12.1" rx="6" fill="#ef8c5f"/><rect x="-19.5" y="-4.8" width="31.1" height="9.7" rx="4.8" fill="#cd6a44"/><rect x="-16.4" y="-2.7" width="7.4" height="2.5" rx="1.2" fill="#f4a882"/><rect x="-7.7" y="0.7" width="7.4" height="2.5" rx="1.2" fill="#f4a882"/><rect x="1.7" y="-3.4" width="7.4" height="2.5" rx="1.2" fill="#f4a882"/></g><path transform="translate(973.6,636.5) rotate(74.9)" d="M-15.3,-6.8L-15.3,-11.2M-15.3,6.8L-15.3,11.2M-11.5,-6.8L-11.5,-11.2M-11.5,6.8L-11.5,11.2M-7.6,-6.8L-7.6,-11.2M-7.6,6.8L-7.6,11.2M-3.8,-6.8L-3.8,-11.2M-3.8,6.8L-3.8,11.2M0,-6.8L0,-11.2M0,6.8L0,11.2M3.8,-6.8L3.8,-11.2M3.8,6.8L3.8,11.2M7.6,-6.8L7.6,-11.2M7.6,6.8L7.6,11.2M11.5,-6.8L11.5,-11.2M11.5,6.8L11.5,11.2M15.3,-6.8L15.3,-11.2M15.3,6.8L15.3,11.2M18.7,-5.8L20.9,-9.7M21.1,-3.4L25,-5.6M22,0L26.5,0M21.1,3.4L25,5.6M18.7,5.8L20.9,9.7M-18.7,-5.8L-20.9,-9.7M-21.1,-3.4L-25,-5.6M-22,0L-26.5,0M-21.1,3.4L-25,5.6M-18.7,5.8L-20.9,9.7" stroke="#6a1c0c" stroke-width="1.8" stroke-linecap="round"/><rect transform="translate(973.6,636.5) rotate(74.9)" x="-23" y="-7.8" width="46.1" height="15.5" rx="7.8" fill="#6a1c0c"/><g transform="translate(973.6,636.5) rotate(74.9)"><rect x="-21.3" y="-6" width="42.7" height="12.1" rx="6" fill="#ef8c5f"/><rect x="-19.4" y="-4.8" width="30.9" height="9.7" rx="4.8" fill="#cd6a44"/><rect x="-16.3" y="-2.7" width="7.4" height="2.5" rx="1.2" fill="#f4a882"/><rect x="-7.6" y="0.7" width="7.4" height="2.5" rx="1.2" fill="#f4a882"/><rect x="1.7" y="-3.4" width="7.4" height="2.5" rx="1.2" fill="#f4a882"/></g><path transform="translate(1015.5,610.3) rotate(-14)" d="M-15.1,-6.8L-15.1,-11.2M-15.1,6.8L-15.1,11.2M-11.3,-6.8L-11.3,-11.2M-11.3,6.8L-11.3,11.2M-7.6,-6.8L-7.6,-11.2M-7.6,6.8L-7.6,11.2M-3.8,-6.8L-3.8,-11.2M-3.8,6.8L-3.8,11.2M0,-6.8L0,-11.2M0,6.8L0,11.2M3.8,-6.8L3.8,-11.2M3.8,6.8L3.8,11.2M7.6,-6.8L7.6,-11.2M7.6,6.8L7.6,11.2M11.3,-6.8L11.3,-11.2M11.3,6.8L11.3,11.2M15.1,-6.8L15.1,-11.2M15.1,6.8L15.1,11.2M18.5,-5.8L20.8,-9.7M21,-3.4L24.9,-5.6M21.9,0L26.4,0M21,3.4L24.9,5.6M18.5,5.8L20.8,9.7M-18.5,-5.8L-20.8,-9.7M-21,-3.4L-24.9,-5.6M-21.9,0L-26.4,0M-21,3.4L-24.9,5.6M-18.5,5.8L-20.8,9.7" stroke="#6a1c0c" stroke-width="1.8" stroke-linecap="round"/><rect transform="translate(1015.5,610.3) rotate(-14)" x="-22.9" y="-7.8" width="45.8" height="15.5" rx="7.8" fill="#6a1c0c"/><g transform="translate(1015.5,610.3) rotate(-14)"><rect x="-21.2" y="-6" width="42.4" height="12.1" rx="6" fill="#ef8c5f"/><rect x="-19.2" y="-4.8" width="30.7" height="9.7" rx="4.8" fill="#cd6a44"/><rect x="-16.1" y="-2.7" width="7.3" height="2.5" rx="1.2" fill="#f4a882"/><rect x="-7.6" y="0.7" width="7.3" height="2.5" rx="1.2" fill="#f4a882"/><rect x="1.6" y="-3.4" width="7.3" height="2.5" rx="1.2" fill="#f4a882"/></g><path transform="translate(1015.1,652.8) rotate(-44.2)" d="M-15.6,-6.8L-15.6,-11.2M-15.6,6.8L-15.6,11.2M-11.7,-6.8L-11.7,-11.2M-11.7,6.8L-11.7,11.2M-7.8,-6.8L-7.8,-11.2M-7.8,6.8L-7.8,11.2M-3.9,-6.8L-3.9,-11.2M-3.9,6.8L-3.9,11.2M0,-6.8L0,-11.2M0,6.8L0,11.2M3.9,-6.8L3.9,-11.2M3.9,6.8L3.9,11.2M7.8,-6.8L7.8,-11.2M7.8,6.8L7.8,11.2M11.7,-6.8L11.7,-11.2M11.7,6.8L11.7,11.2M15.6,-6.8L15.6,-11.2M15.6,6.8L15.6,11.2M18.9,-5.8L21.2,-9.7M21.4,-3.4L25.3,-5.6M22.3,0L26.8,0M21.4,3.4L25.3,5.6M18.9,5.8L21.2,9.7M-18.9,-5.8L-21.2,-9.7M-21.4,-3.4L-25.3,-5.6M-22.3,0L-26.8,0M-21.4,3.4L-25.3,5.6M-18.9,5.8L-21.2,9.7" stroke="#6a1c0c" stroke-width="1.8" stroke-linecap="round"/><rect transform="translate(1015.1,652.8) rotate(-44.2)" x="-23.3" y="-7.8" width="46.6" height="15.5" rx="7.8" fill="#6a1c0c"/><g transform="translate(1015.1,652.8) rotate(-44.2)"><rect x="-21.6" y="-6" width="43.2" height="12.1" rx="6" fill="#ef8c5f"/><rect x="-19.6" y="-4.8" width="31.2" height="9.7" rx="4.8" fill="#cd6a44"/><rect x="-16.4" y="-2.7" width="7.5" height="2.5" rx="1.2" fill="#f4a882"/><rect x="-7.7" y="0.7" width="7.5" height="2.5" rx="1.2" fill="#f4a882"/><rect x="1.7" y="-3.4" width="7.5" height="2.5" rx="1.2" fill="#f4a882"/></g><path transform="translate(963.8,688.7) rotate(-19.4)" d="M-15.4,-6.8L-15.4,-11.2M-15.4,6.8L-15.4,11.2M-11.6,-6.8L-11.6,-11.2M-11.6,6.8L-11.6,11.2M-7.7,-6.8L-7.7,-11.2M-7.7,6.8L-7.7,11.2M-3.9,-6.8L-3.9,-11.2M-3.9,6.8L-3.9,11.2M0,-6.8L0,-11.2M0,6.8L0,11.2M3.9,-6.8L3.9,-11.2M3.9,6.8L3.9,11.2M7.7,-6.8L7.7,-11.2M7.7,6.8L7.7,11.2M11.6,-6.8L11.6,-11.2M11.6,6.8L11.6,11.2M15.4,-6.8L15.4,-11.2M15.4,6.8L15.4,11.2M18.8,-5.8L21,-9.7M21.3,-3.4L25.2,-5.6M22.2,0L26.7,0M21.3,3.4L25.2,5.6M18.8,5.8L21,9.7M-18.8,-5.8L-21,-9.7M-21.3,-3.4L-25.2,-5.6M-22.2,0L-26.7,0M-21.3,3.4L-25.2,5.6M-18.8,5.8L-21,9.7" stroke="#6a1c0c" stroke-width="1.8" stroke-linecap="round"/><rect transform="translate(963.8,688.7) rotate(-19.4)" x="-23.2" y="-7.8" width="46.3" height="15.5" rx="7.8" fill="#6a1c0c"/><g transform="translate(963.8,688.7) rotate(-19.4)"><rect x="-21.5" y="-6" width="42.9" height="12.1" rx="6" fill="#ef8c5f"/><rect x="-19.5" y="-4.8" width="31" height="9.7" rx="4.8" fill="#cd6a44"/><rect x="-16.3" y="-2.7" width="7.4" height="2.5" rx="1.2" fill="#f4a882"/><rect x="-7.6" y="0.7" width="7.4" height="2.5" rx="1.2" fill="#f4a882"/><rect x="1.7" y="-3.4" width="7.4" height="2.5" rx="1.2" fill="#f4a882"/></g><path transform="translate(1020.2,693.4) rotate(-55.5)" d="M-15.6,-6.8L-15.6,-11.2M-15.6,6.8L-15.6,11.2M-11.7,-6.8L-11.7,-11.2M-11.7,6.8L-11.7,11.2M-7.8,-6.8L-7.8,-11.2M-7.8,6.8L-7.8,11.2M-3.9,-6.8L-3.9,-11.2M-3.9,6.8L-3.9,11.2M0,-6.8L0,-11.2M0,6.8L0,11.2M3.9,-6.8L3.9,-11.2M3.9,6.8L3.9,11.2M7.8,-6.8L7.8,-11.2M7.8,6.8L7.8,11.2M11.7,-6.8L11.7,-11.2M11.7,6.8L11.7,11.2M15.6,-6.8L15.6,-11.2M15.6,6.8L15.6,11.2M19,-5.8L21.2,-9.7M21.5,-3.4L25.4,-5.6M22.4,0L26.9,0M21.5,3.4L25.4,5.6M19,5.8L21.2,9.7M-19,-5.8L-21.2,-9.7M-21.5,-3.4L-25.4,-5.6M-22.4,0L-26.9,0M-21.5,3.4L-25.4,5.6M-19,5.8L-21.2,9.7" stroke="#6a1c0c" stroke-width="1.8" stroke-linecap="round"/><rect transform="translate(1020.2,693.4) rotate(-55.5)" x="-23.4" y="-7.8" width="46.7" height="15.5" rx="7.8" fill="#6a1c0c"/><g transform="translate(1020.2,693.4) rotate(-55.5)"><rect x="-21.7" y="-6" width="43.3" height="12.1" rx="6" fill="#ef8c5f"/><rect x="-19.6" y="-4.8" width="31.3" height="9.7" rx="4.8" fill="#cd6a44"/><rect x="-16.5" y="-2.7" width="7.5" height="2.5" rx="1.2" fill="#f4a882"/><rect x="-7.7" y="0.7" width="7.5" height="2.5" rx="1.2" fill="#f4a882"/><rect x="1.7" y="-3.4" width="7.5" height="2.5" rx="1.2" fill="#f4a882"/></g><path transform="translate(1075.8,599.3) rotate(14)" d="M-14.9,-6.8L-14.9,-11.2M-14.9,6.8L-14.9,11.2M-11.2,-6.8L-11.2,-11.2M-11.2,6.8L-11.2,11.2M-7.5,-6.8L-7.5,-11.2M-7.5,6.8L-7.5,11.2M-3.7,-6.8L-3.7,-11.2M-3.7,6.8L-3.7,11.2M0,-6.8L0,-11.2M0,6.8L0,11.2M3.7,-6.8L3.7,-11.2M3.7,6.8L3.7,11.2M7.5,-6.8L7.5,-11.2M7.5,6.8L7.5,11.2M11.2,-6.8L11.2,-11.2M11.2,6.8L11.2,11.2M14.9,-6.8L14.9,-11.2M14.9,6.8L14.9,11.2M18.3,-5.8L20.6,-9.7M20.8,-3.4L24.7,-5.6M21.7,0L26.2,0M20.8,3.4L24.7,5.6M18.3,5.8L20.6,9.7M-18.3,-5.8L-20.6,-9.7M-20.8,-3.4L-24.7,-5.6M-21.7,0L-26.2,0M-20.8,3.4L-24.7,5.6M-18.3,5.8L-20.6,9.7" stroke="#6a1c0c" stroke-width="1.8" stroke-linecap="round"/><rect transform="translate(1075.8,599.3) rotate(14)" x="-22.7" y="-7.8" width="45.4" height="15.5" rx="7.8" fill="#6a1c0c"/><g transform="translate(1075.8,599.3) rotate(14)"><rect x="-21" y="-6" width="42" height="12.1" rx="6" fill="#ef8c5f"/><rect x="-19" y="-4.8" width="30.4" height="9.7" rx="4.8" fill="#cd6a44"/><rect x="-16" y="-2.7" width="7.3" height="2.5" rx="1.2" fill="#f4a882"/><rect x="-7.5" y="0.7" width="7.3" height="2.5" rx="1.2" fill="#f4a882"/><rect x="1.6" y="-3.4" width="7.3" height="2.5" rx="1.2" fill="#f4a882"/></g><path transform="translate(1058,640.1) rotate(67.9)" d="M-15.5,-6.8L-15.5,-11.2M-15.5,6.8L-15.5,11.2M-11.6,-6.8L-11.6,-11.2M-11.6,6.8L-11.6,11.2M-7.7,-6.8L-7.7,-11.2M-7.7,6.8L-7.7,11.2M-3.9,-6.8L-3.9,-11.2M-3.9,6.8L-3.9,11.2M0,-6.8L0,-11.2M0,6.8L0,11.2M3.9,-6.8L3.9,-11.2M3.9,6.8L3.9,11.2M7.7,-6.8L7.7,-11.2M7.7,6.8L7.7,11.2M11.6,-6.8L11.6,-11.2M11.6,6.8L11.6,11.2M15.5,-6.8L15.5,-11.2M15.5,6.8L15.5,11.2M18.8,-5.8L21.1,-9.7M21.3,-3.4L25.2,-5.6M22.2,0L26.7,0M21.3,3.4L25.2,5.6M18.8,5.8L21.1,9.7M-18.8,-5.8L-21.1,-9.7M-21.3,-3.4L-25.2,-5.6M-22.2,0L-26.7,0M-21.3,3.4L-25.2,5.6M-18.8,5.8L-21.1,9.7" stroke="#6a1c0c" stroke-width="1.8" stroke-linecap="round"/><rect transform="translate(1058,640.1) rotate(67.9)" x="-23.2" y="-7.8" width="46.4" height="15.5" rx="7.8" fill="#6a1c0c"/><g transform="translate(1058,640.1) rotate(67.9)"><rect x="-21.5" y="-6" width="43" height="12.1" rx="6" fill="#ef8c5f"/><rect x="-19.5" y="-4.8" width="31.1" height="9.7" rx="4.8" fill="#cd6a44"/><rect x="-16.4" y="-2.7" width="7.4" height="2.5" rx="1.2" fill="#f4a882"/><rect x="-7.7" y="0.7" width="7.4" height="2.5" rx="1.2" fill="#f4a882"/><rect x="1.7" y="-3.4" width="7.4" height="2.5" rx="1.2" fill="#f4a882"/></g><path transform="translate(1096.5,646.5) rotate(60.9)" d="M-15.8,-6.8L-15.8,-11.2M-15.8,6.8L-15.8,11.2M-11.9,-6.8L-11.9,-11.2M-11.9,6.8L-11.9,11.2M-7.9,-6.8L-7.9,-11.2M-7.9,6.8L-7.9,11.2M-4,-6.8L-4,-11.2M-4,6.8L-4,11.2M0,-6.8L0,-11.2M0,6.8L0,11.2M4,-6.8L4,-11.2M4,6.8L4,11.2M7.9,-6.8L7.9,-11.2M7.9,6.8L7.9,11.2M11.9,-6.8L11.9,-11.2M11.9,6.8L11.9,11.2M15.8,-6.8L15.8,-11.2M15.8,6.8L15.8,11.2M19.2,-5.8L21.4,-9.7M21.7,-3.4L25.6,-5.6M22.6,0L27.1,0M21.7,3.4L25.6,5.6M19.2,5.8L21.4,9.7M-19.2,-5.8L-21.4,-9.7M-21.7,-3.4L-25.6,-5.6M-22.6,0L-27.1,0M-21.7,3.4L-25.6,5.6M-19.2,5.8L-21.4,9.7" stroke="#6a1c0c" stroke-width="1.8" stroke-linecap="round"/><rect transform="translate(1096.5,646.5) rotate(60.9)" x="-23.6" y="-7.8" width="47.1" height="15.5" rx="7.8" fill="#6a1c0c"/><g transform="translate(1096.5,646.5) rotate(60.9)"><rect x="-21.9" y="-6" width="43.7" height="12.1" rx="6" fill="#ef8c5f"/><rect x="-19.8" y="-4.8" width="31.6" height="9.7" rx="4.8" fill="#cd6a44"/><rect x="-16.6" y="-2.7" width="7.5" height="2.5" rx="1.2" fill="#f4a882"/><rect x="-7.8" y="0.7" width="7.5" height="2.5" rx="1.2" fill="#f4a882"/><rect x="1.7" y="-3.4" width="7.5" height="2.5" rx="1.2" fill="#f4a882"/></g><path transform="translate(1139.9,625.9) rotate(2.2)" d="M-16.1,-6.8L-16.1,-11.2M-16.1,6.8L-16.1,11.2M-12.1,-6.8L-12.1,-11.2M-12.1,6.8L-12.1,11.2M-8.1,-6.8L-8.1,-11.2M-8.1,6.8L-8.1,11.2M-4,-6.8L-4,-11.2M-4,6.8L-4,11.2M0,-6.8L0,-11.2M0,6.8L0,11.2M4,-6.8L4,-11.2M4,6.8L4,11.2M8.1,-6.8L8.1,-11.2M8.1,6.8L8.1,11.2M12.1,-6.8L12.1,-11.2M12.1,6.8L12.1,11.2M16.1,-6.8L16.1,-11.2M16.1,6.8L16.1,11.2M19.5,-5.8L21.7,-9.7M22,-3.4L25.9,-5.6M22.9,0L27.4,0M22,3.4L25.9,5.6M19.5,5.8L21.7,9.7M-19.5,-5.8L-21.7,-9.7M-22,-3.4L-25.9,-5.6M-22.9,0L-27.4,0M-22,3.4L-25.9,5.6M-19.5,5.8L-21.7,9.7" stroke="#6a1c0c" stroke-width="1.8" stroke-linecap="round"/><rect transform="translate(1139.9,625.9) rotate(2.2)" x="-23.9" y="-7.8" width="47.7" height="15.5" rx="7.8" fill="#6a1c0c"/><g transform="translate(1139.9,625.9) rotate(2.2)"><rect x="-22.2" y="-6" width="44.3" height="12.1" rx="6" fill="#ef8c5f"/><rect x="-20" y="-4.8" width="32" height="9.7" rx="4.8" fill="#cd6a44"/><rect x="-16.8" y="-2.7" width="7.6" height="2.5" rx="1.2" fill="#f4a882"/><rect x="-7.9" y="0.7" width="7.6" height="2.5" rx="1.2" fill="#f4a882"/><rect x="1.7" y="-3.4" width="7.6" height="2.5" rx="1.2" fill="#f4a882"/></g><path transform="translate(1146.4,664.4) rotate(33.1)" d="M-17.4,-6.8L-17.4,-11.2M-17.4,6.8L-17.4,11.2M-13.6,-6.8L-13.6,-11.2M-13.6,6.8L-13.6,11.2M-9.7,-6.8L-9.7,-11.2M-9.7,6.8L-9.7,11.2M-5.8,-6.8L-5.8,-11.2M-5.8,6.8L-5.8,11.2M-1.9,-6.8L-1.9,-11.2M-1.9,6.8L-1.9,11.2M1.9,-6.8L1.9,-11.2M1.9,6.8L1.9,11.2M5.8,-6.8L5.8,-11.2M5.8,6.8L5.8,11.2M9.7,-6.8L9.7,-11.2M9.7,6.8L9.7,11.2M13.6,-6.8L13.6,-11.2M13.6,6.8L13.6,11.2M17.4,-6.8L17.4,-11.2M17.4,6.8L17.4,11.2M20.8,-5.8L23.1,-9.7M23.3,-3.4L27.2,-5.6M24.2,0L28.7,0M23.3,3.4L27.2,5.6M20.8,5.8L23.1,9.7M-20.8,-5.8L-23.1,-9.7M-23.3,-3.4L-27.2,-5.6M-24.2,0L-28.7,0M-23.3,3.4L-27.2,5.6M-20.8,5.8L-23.1,9.7" stroke="#6a1c0c" stroke-width="1.8" stroke-linecap="round"/><rect transform="translate(1146.4,664.4) rotate(33.1)" x="-25.2" y="-7.8" width="50.4" height="15.5" rx="7.8" fill="#6a1c0c"/><g transform="translate(1146.4,664.4) rotate(33.1)"><rect x="-23.5" y="-6" width="47" height="12.1" rx="6" fill="#ef8c5f"/><rect x="-21.2" y="-4.8" width="33.7" height="9.7" rx="4.8" fill="#cd6a44"/><rect x="-17.8" y="-2.7" width="8.1" height="2.5" rx="1.2" fill="#f4a882"/><rect x="-8.3" y="0.7" width="8.1" height="2.5" rx="1.2" fill="#f4a882"/><rect x="1.8" y="-3.4" width="8.1" height="2.5" rx="1.2" fill="#f4a882"/></g><path transform="translate(1076.7,691) rotate(11.2)" d="M-15.6,-6.8L-15.6,-11.2M-15.6,6.8L-15.6,11.2M-11.7,-6.8L-11.7,-11.2M-11.7,6.8L-11.7,11.2M-7.8,-6.8L-7.8,-11.2M-7.8,6.8L-7.8,11.2M-3.9,-6.8L-3.9,-11.2M-3.9,6.8L-3.9,11.2M0,-6.8L0,-11.2M0,6.8L0,11.2M3.9,-6.8L3.9,-11.2M3.9,6.8L3.9,11.2M7.8,-6.8L7.8,-11.2M7.8,6.8L7.8,11.2M11.7,-6.8L11.7,-11.2M11.7,6.8L11.7,11.2M15.6,-6.8L15.6,-11.2M15.6,6.8L15.6,11.2M19,-5.8L21.2,-9.7M21.4,-3.4L25.3,-5.6M22.3,0L26.8,0M21.4,3.4L25.3,5.6M19,5.8L21.2,9.7M-19,-5.8L-21.2,-9.7M-21.4,-3.4L-25.3,-5.6M-22.3,0L-26.8,0M-21.4,3.4L-25.3,5.6M-19,5.8L-21.2,9.7" stroke="#6a1c0c" stroke-width="1.8" stroke-linecap="round"/><rect transform="translate(1076.7,691) rotate(11.2)" x="-23.3" y="-7.8" width="46.7" height="15.5" rx="7.8" fill="#6a1c0c"/><g transform="translate(1076.7,691) rotate(11.2)"><rect x="-21.6" y="-6" width="43.3" height="12.1" rx="6" fill="#ef8c5f"/><rect x="-19.6" y="-4.8" width="31.3" height="9.7" rx="4.8" fill="#cd6a44"/><rect x="-16.5" y="-2.7" width="7.5" height="2.5" rx="1.2" fill="#f4a882"/><rect x="-7.7" y="0.7" width="7.5" height="2.5" rx="1.2" fill="#f4a882"/><rect x="1.7" y="-3.4" width="7.5" height="2.5" rx="1.2" fill="#f4a882"/></g><path d="M360,27.2 L410,7.2 L403,20.3 L765,20.3 L758.2,7.2 L806.3,27.2 L758.4,46.9 L765,33.4 L403,33.4 L410,47Z" fill="url(#ag)" stroke="#1f2d7a" stroke-width="1.2" stroke-linejoin="miter"/><rect x="410" y="22" width="350" height="10" fill="url(#ahl)"/><text x="194.5" y="31" font-size="29.5" textLength="98" lengthAdjust="spacingAndGlyphs">Isolate</text><text x="880" y="30.5" font-size="29.5" textLength="166.3" lengthAdjust="spacingAndGlyphs">Community</text><text x="454.2" y="72.1" font-size="29.5" textLength="261.4" lengthAdjust="spacingAndGlyphs">Biotic background</text><text x="449.9" y="223.5" font-size="29.5" textLength="272" lengthAdjust="spacingAndGlyphs">Microbial decision-</text><text x="532" y="259.5" font-size="29.5" textLength="106" lengthAdjust="spacingAndGlyphs">making</text><text x="8.4" y="457.2" font-size="29.5" textLength="166" lengthAdjust="spacingAndGlyphs">Community</text><text x="20.1" y="492.7" font-size="29.5" textLength="145" lengthAdjust="spacingAndGlyphs">functional</text><text x="6.2" y="528.6" font-size="29.5" textLength="171" lengthAdjust="spacingAndGlyphs">redundancy</text><text x="36.8" y="738.8" font-size="29.5" textLength="134.2" lengthAdjust="spacingAndGlyphs">Microbial</text><text x="20.8" y="775.8" font-size="29.5" textLength="172" lengthAdjust="spacingAndGlyphs">productivity</text>
</svg></body></html>
